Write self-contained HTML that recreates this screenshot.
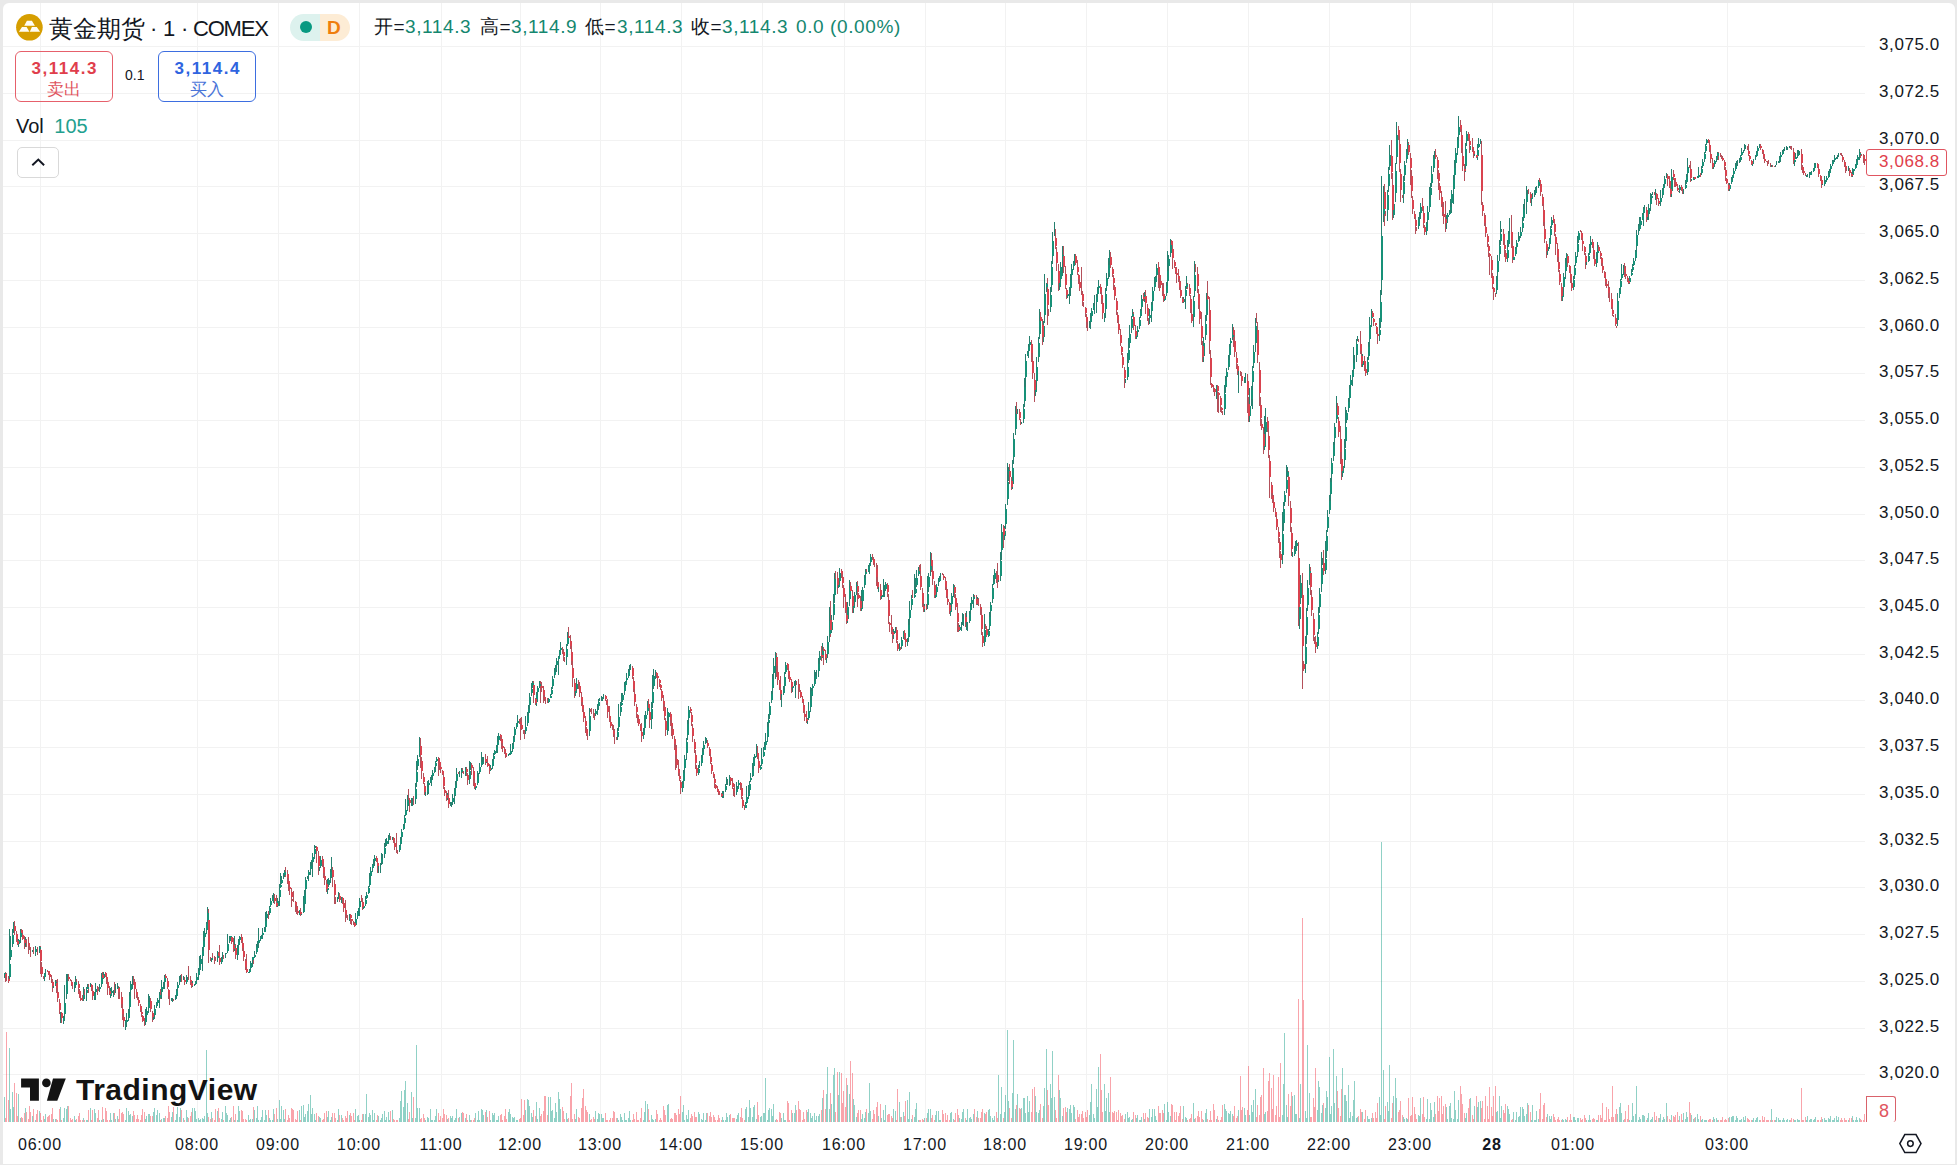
<!DOCTYPE html>
<html><head><meta charset="utf-8">
<style>
html,body{margin:0;padding:0;}
body{width:1957px;height:1165px;background:#e9e9e9;position:relative;overflow:hidden;font-family:"Liberation Sans",sans-serif;color:#131722;}
#box{position:absolute;left:3px;top:3px;width:1952px;height:1161px;background:#fff;border-radius:6px 6px 0 0;overflow:hidden;}
svg{position:absolute;left:0;top:0;}
.a{position:absolute;white-space:nowrap;line-height:1;}
.pl{position:absolute;left:1879px;font-size:17px;letter-spacing:0.6px;line-height:20px;height:20px;white-space:nowrap;color:#131722;}
.tl{position:absolute;top:1135px;letter-spacing:0.8px;width:80px;text-align:center;font-size:16px;line-height:20px;white-space:nowrap;color:#131722;}
.tl.b{font-weight:bold;}
.g{color:#15876f;}
.oh{top:16.5px;font-size:19px;letter-spacing:0.6px;}
</style></head><body>
<div id="box"></div>
<svg width="1957" height="1165" viewBox="0 0 1957 1165" shape-rendering="crispEdges" fill="none" stroke-width="1">
<path d="M40.5 3V1122M197.5 3V1122M278.5 3V1122M359.5 3V1122M441.5 3V1122M520.5 3V1122M600.5 3V1122M681.5 3V1122M762.5 3V1122M844.5 3V1122M925.5 3V1122M1005.5 3V1122M1086.5 3V1122M1167.5 3V1122M1248.5 3V1122M1329.5 3V1122M1410.5 3V1122M1492.5 3V1122M1573.5 3V1122M1727.5 3V1122M3 46.5H1865M3 93.5H1865M3 140.5H1865M3 186.5H1865M3 233.5H1865M3 280.5H1865M3 327.5H1865M3 373.5H1865M3 420.5H1865M3 467.5H1865M3 514.5H1865M3 560.5H1865M3 607.5H1865M3 654.5H1865M3 700.5H1865M3 747.5H1865M3 794.5H1865M3 841.5H1865M3 887.5H1865M3 934.5H1865M3 981.5H1865M3 1028.5H1865M3 1074.5H1865" stroke="#f2f2f2"/>
<path d="M4.5 1097V1121.5M9.5 1048V1121.5M10.5 1109V1121.5M12.5 1092V1121.5M13.5 1107V1121.5M18.5 1094V1121.5M20.5 1118V1121.5M25.5 1108V1121.5M32.5 1116V1121.5M35.5 1120V1121.5M39.5 1111V1121.5M44.5 1119V1121.5M45.5 1114V1121.5M53.5 1119V1121.5M55.5 1119V1121.5M60.5 1107V1121.5M63.5 1118V1121.5M64.5 1108V1121.5M66.5 1109V1121.5M67.5 1106V1121.5M74.5 1116V1121.5M75.5 1120V1121.5M83.5 1118V1121.5M86.5 1120V1121.5M87.5 1120V1121.5M90.5 1108V1121.5M94.5 1109V1121.5M95.5 1113V1121.5M99.5 1120V1121.5M101.5 1120V1121.5M103.5 1119V1121.5M110.5 1113V1121.5M111.5 1120V1121.5M113.5 1113V1121.5M115.5 1119V1121.5M117.5 1116V1121.5M125.5 1120V1121.5M126.5 1108V1121.5M128.5 1111V1121.5M129.5 1115V1121.5M130.5 1114V1121.5M132.5 1116V1121.5M145.5 1119V1121.5M146.5 1116V1121.5M148.5 1114V1121.5M149.5 1114V1121.5M153.5 1112V1121.5M154.5 1108V1121.5M156.5 1115V1121.5M157.5 1110V1121.5M159.5 1113V1121.5M161.5 1119V1121.5M163.5 1118V1121.5M164.5 1118V1121.5M171.5 1117V1121.5M172.5 1112V1121.5M175.5 1120V1121.5M176.5 1114V1121.5M177.5 1107V1121.5M179.5 1117V1121.5M180.5 1108V1121.5M183.5 1118V1121.5M186.5 1110V1121.5M187.5 1117V1121.5M192.5 1108V1121.5M194.5 1108V1121.5M195.5 1111V1121.5M196.5 1119V1121.5M198.5 1118V1121.5M199.5 1120V1121.5M200.5 1119V1121.5M202.5 1118V1121.5M203.5 1119V1121.5M204.5 1116V1121.5M206.5 1050V1121.5M207.5 1113V1121.5M211.5 1112V1121.5M217.5 1111V1121.5M221.5 1119V1121.5M222.5 1112V1121.5M225.5 1106V1121.5M226.5 1113V1121.5M227.5 1115V1121.5M229.5 1120V1121.5M230.5 1118V1121.5M234.5 1120V1121.5M237.5 1120V1121.5M238.5 1106V1121.5M239.5 1111V1121.5M248.5 1115V1121.5M249.5 1120V1121.5M250.5 1119V1121.5M252.5 1119V1121.5M254.5 1110V1121.5M256.5 1118V1121.5M257.5 1106V1121.5M258.5 1120V1121.5M260.5 1120V1121.5M261.5 1117V1121.5M262.5 1110V1121.5M264.5 1120V1121.5M265.5 1110V1121.5M266.5 1115V1121.5M269.5 1118V1121.5M270.5 1120V1121.5M272.5 1120V1121.5M273.5 1109V1121.5M277.5 1119V1121.5M279.5 1100V1121.5M280.5 1119V1121.5M281.5 1106V1121.5M283.5 1110V1121.5M284.5 1119V1121.5M299.5 1110V1121.5M301.5 1106V1121.5M303.5 1105V1121.5M304.5 1117V1121.5M305.5 1114V1121.5M307.5 1111V1121.5M308.5 1104V1121.5M310.5 1095V1121.5M311.5 1114V1121.5M312.5 1108V1121.5M314.5 1114V1121.5M315.5 1120V1121.5M319.5 1117V1121.5M320.5 1118V1121.5M327.5 1117V1121.5M328.5 1111V1121.5M330.5 1120V1121.5M331.5 1117V1121.5M337.5 1120V1121.5M338.5 1109V1121.5M341.5 1115V1121.5M349.5 1115V1121.5M355.5 1109V1121.5M357.5 1116V1121.5M358.5 1115V1121.5M359.5 1120V1121.5M363.5 1114V1121.5M365.5 1114V1121.5M366.5 1094V1121.5M368.5 1117V1121.5M369.5 1113V1121.5M370.5 1115V1121.5M372.5 1110V1121.5M373.5 1120V1121.5M374.5 1113V1121.5M378.5 1116V1121.5M380.5 1120V1121.5M381.5 1118V1121.5M382.5 1114V1121.5M384.5 1111V1121.5M385.5 1120V1121.5M386.5 1117V1121.5M388.5 1112V1121.5M389.5 1120V1121.5M392.5 1110V1121.5M399.5 1118V1121.5M400.5 1101V1121.5M401.5 1091V1121.5M403.5 1107V1121.5M404.5 1090V1121.5M405.5 1081V1121.5M407.5 1103V1121.5M411.5 1092V1121.5M412.5 1118V1121.5M415.5 1118V1121.5M416.5 1045V1121.5M417.5 1108V1121.5M419.5 1108V1121.5M425.5 1120V1121.5M427.5 1117V1121.5M428.5 1118V1121.5M430.5 1109V1121.5M431.5 1120V1121.5M432.5 1120V1121.5M434.5 1120V1121.5M435.5 1116V1121.5M436.5 1109V1121.5M447.5 1119V1121.5M450.5 1116V1121.5M451.5 1118V1121.5M452.5 1116V1121.5M454.5 1120V1121.5M455.5 1118V1121.5M456.5 1109V1121.5M459.5 1117V1121.5M461.5 1113V1121.5M465.5 1118V1121.5M469.5 1115V1121.5M470.5 1120V1121.5M475.5 1113V1121.5M477.5 1120V1121.5M478.5 1111V1121.5M479.5 1120V1121.5M481.5 1109V1121.5M482.5 1110V1121.5M483.5 1115V1121.5M486.5 1110V1121.5M490.5 1120V1121.5M492.5 1113V1121.5M493.5 1115V1121.5M494.5 1113V1121.5M496.5 1120V1121.5M497.5 1120V1121.5M498.5 1116V1121.5M508.5 1112V1121.5M509.5 1109V1121.5M510.5 1114V1121.5M512.5 1117V1121.5M513.5 1118V1121.5M514.5 1117V1121.5M516.5 1120V1121.5M517.5 1120V1121.5M525.5 1110V1121.5M527.5 1099V1121.5M528.5 1100V1121.5M529.5 1106V1121.5M531.5 1113V1121.5M532.5 1117V1121.5M536.5 1102V1121.5M537.5 1119V1121.5M539.5 1108V1121.5M548.5 1097V1121.5M550.5 1097V1121.5M551.5 1111V1121.5M552.5 1110V1121.5M554.5 1118V1121.5M555.5 1103V1121.5M556.5 1112V1121.5M558.5 1092V1121.5M559.5 1099V1121.5M560.5 1109V1121.5M566.5 1113V1121.5M567.5 1119V1121.5M575.5 1119V1121.5M576.5 1109V1121.5M589.5 1114V1121.5M595.5 1111V1121.5M597.5 1119V1121.5M598.5 1113V1121.5M599.5 1114V1121.5M601.5 1114V1121.5M602.5 1118V1121.5M603.5 1118V1121.5M617.5 1118V1121.5M618.5 1120V1121.5M620.5 1114V1121.5M621.5 1117V1121.5M622.5 1120V1121.5M624.5 1113V1121.5M625.5 1120V1121.5M626.5 1120V1121.5M628.5 1118V1121.5M629.5 1111V1121.5M630.5 1120V1121.5M643.5 1120V1121.5M644.5 1112V1121.5M645.5 1101V1121.5M647.5 1104V1121.5M651.5 1115V1121.5M652.5 1119V1121.5M653.5 1120V1121.5M655.5 1119V1121.5M667.5 1105V1121.5M668.5 1104V1121.5M682.5 1112V1121.5M683.5 1105V1121.5M684.5 1120V1121.5M686.5 1115V1121.5M687.5 1119V1121.5M688.5 1110V1121.5M698.5 1112V1121.5M699.5 1114V1121.5M701.5 1119V1121.5M702.5 1120V1121.5M703.5 1113V1121.5M705.5 1120V1121.5M706.5 1113V1121.5M722.5 1117V1121.5M723.5 1120V1121.5M725.5 1120V1121.5M726.5 1113V1121.5M727.5 1117V1121.5M729.5 1115V1121.5M736.5 1119V1121.5M737.5 1115V1121.5M738.5 1113V1121.5M745.5 1109V1121.5M746.5 1107V1121.5M748.5 1117V1121.5M749.5 1100V1121.5M750.5 1108V1121.5M752.5 1117V1121.5M753.5 1107V1121.5M754.5 1105V1121.5M756.5 1119V1121.5M760.5 1117V1121.5M761.5 1116V1121.5M763.5 1113V1121.5M764.5 1113V1121.5M765.5 1078V1121.5M767.5 1120V1121.5M768.5 1110V1121.5M769.5 1108V1121.5M771.5 1109V1121.5M772.5 1116V1121.5M773.5 1104V1121.5M775.5 1120V1121.5M781.5 1118V1121.5M783.5 1113V1121.5M784.5 1120V1121.5M785.5 1120V1121.5M792.5 1113V1121.5M794.5 1113V1121.5M795.5 1105V1121.5M807.5 1112V1121.5M808.5 1109V1121.5M810.5 1113V1121.5M811.5 1118V1121.5M812.5 1116V1121.5M814.5 1113V1121.5M815.5 1120V1121.5M816.5 1116V1121.5M818.5 1116V1121.5M819.5 1114V1121.5M822.5 1098V1121.5M826.5 1094V1121.5M827.5 1067V1121.5M829.5 1109V1121.5M831.5 1104V1121.5M833.5 1075V1121.5M834.5 1068V1121.5M838.5 1095V1121.5M839.5 1072V1121.5M847.5 1085V1121.5M849.5 1094V1121.5M853.5 1099V1121.5M854.5 1105V1121.5M856.5 1117V1121.5M861.5 1119V1121.5M862.5 1114V1121.5M864.5 1118V1121.5M865.5 1112V1121.5M868.5 1113V1121.5M869.5 1083V1121.5M870.5 1111V1121.5M878.5 1116V1121.5M881.5 1118V1121.5M883.5 1110V1121.5M884.5 1120V1121.5M885.5 1105V1121.5M893.5 1109V1121.5M895.5 1111V1121.5M899.5 1102V1121.5M901.5 1117V1121.5M903.5 1112V1121.5M907.5 1100V1121.5M908.5 1119V1121.5M909.5 1092V1121.5M911.5 1119V1121.5M914.5 1117V1121.5M915.5 1109V1121.5M916.5 1103V1121.5M918.5 1120V1121.5M924.5 1118V1121.5M927.5 1113V1121.5M928.5 1109V1121.5M930.5 1109V1121.5M935.5 1115V1121.5M936.5 1111V1121.5M938.5 1111V1121.5M939.5 1120V1121.5M940.5 1120V1121.5M950.5 1113V1121.5M951.5 1112V1121.5M953.5 1119V1121.5M959.5 1118V1121.5M961.5 1119V1121.5M962.5 1112V1121.5M963.5 1109V1121.5M966.5 1120V1121.5M967.5 1109V1121.5M969.5 1118V1121.5M970.5 1117V1121.5M971.5 1119V1121.5M973.5 1114V1121.5M977.5 1111V1121.5M984.5 1113V1121.5M988.5 1110V1121.5M989.5 1109V1121.5M990.5 1116V1121.5M992.5 1118V1121.5M993.5 1120V1121.5M994.5 1116V1121.5M998.5 1075V1121.5M1000.5 1114V1121.5M1001.5 1087V1121.5M1004.5 1112V1121.5M1005.5 1095V1121.5M1007.5 1030V1121.5M1008.5 1101V1121.5M1012.5 1093V1121.5M1013.5 1040V1121.5M1015.5 1109V1121.5M1017.5 1094V1121.5M1021.5 1108V1121.5M1023.5 1098V1121.5M1024.5 1098V1121.5M1025.5 1113V1121.5M1027.5 1096V1121.5M1028.5 1112V1121.5M1029.5 1101V1121.5M1035.5 1096V1121.5M1036.5 1112V1121.5M1038.5 1113V1121.5M1039.5 1110V1121.5M1043.5 1106V1121.5M1044.5 1088V1121.5M1046.5 1049V1121.5M1050.5 1084V1121.5M1051.5 1098V1121.5M1052.5 1051V1121.5M1054.5 1097V1121.5M1059.5 1090V1121.5M1060.5 1098V1121.5M1062.5 1116V1121.5M1067.5 1108V1121.5M1069.5 1109V1121.5M1070.5 1105V1121.5M1071.5 1113V1121.5M1073.5 1105V1121.5M1074.5 1107V1121.5M1089.5 1115V1121.5M1090.5 1102V1121.5M1091.5 1084V1121.5M1093.5 1114V1121.5M1094.5 1118V1121.5M1096.5 1089V1121.5M1097.5 1107V1121.5M1098.5 1067V1121.5M1104.5 1084V1121.5M1105.5 1111V1121.5M1106.5 1098V1121.5M1108.5 1093V1121.5M1109.5 1112V1121.5M1125.5 1114V1121.5M1127.5 1112V1121.5M1128.5 1118V1121.5M1129.5 1117V1121.5M1131.5 1120V1121.5M1132.5 1119V1121.5M1136.5 1118V1121.5M1137.5 1115V1121.5M1139.5 1120V1121.5M1140.5 1120V1121.5M1141.5 1117V1121.5M1144.5 1119V1121.5M1149.5 1109V1121.5M1151.5 1117V1121.5M1152.5 1109V1121.5M1154.5 1109V1121.5M1155.5 1116V1121.5M1156.5 1120V1121.5M1164.5 1104V1121.5M1166.5 1120V1121.5M1167.5 1102V1121.5M1168.5 1112V1121.5M1170.5 1116V1121.5M1183.5 1106V1121.5M1185.5 1117V1121.5M1186.5 1118V1121.5M1193.5 1103V1121.5M1194.5 1119V1121.5M1203.5 1120V1121.5M1205.5 1113V1121.5M1206.5 1109V1121.5M1216.5 1119V1121.5M1224.5 1104V1121.5M1225.5 1109V1121.5M1226.5 1111V1121.5M1228.5 1113V1121.5M1229.5 1114V1121.5M1230.5 1111V1121.5M1232.5 1114V1121.5M1238.5 1110V1121.5M1244.5 1108V1121.5M1245.5 1115V1121.5M1249.5 1115V1121.5M1251.5 1105V1121.5M1252.5 1112V1121.5M1253.5 1100V1121.5M1255.5 1089V1121.5M1264.5 1114V1121.5M1265.5 1112V1121.5M1282.5 1115V1121.5M1283.5 1084V1121.5M1284.5 1033V1121.5M1286.5 1105V1121.5M1287.5 1117V1121.5M1292.5 1096V1121.5M1294.5 1095V1121.5M1295.5 1114V1121.5M1296.5 1114V1121.5M1299.5 1118V1121.5M1300.5 1084V1121.5M1305.5 1111V1121.5M1306.5 1118V1121.5M1307.5 1045V1121.5M1309.5 1093V1121.5M1317.5 1110V1121.5M1318.5 1081V1121.5M1319.5 1087V1121.5M1321.5 1113V1121.5M1322.5 1105V1121.5M1325.5 1108V1121.5M1326.5 1091V1121.5M1327.5 1097V1121.5M1329.5 1057V1121.5M1330.5 1114V1121.5M1331.5 1106V1121.5M1333.5 1049V1121.5M1334.5 1103V1121.5M1336.5 1076V1121.5M1342.5 1068V1121.5M1344.5 1095V1121.5M1345.5 1095V1121.5M1346.5 1101V1121.5M1348.5 1085V1121.5M1349.5 1118V1121.5M1350.5 1112V1121.5M1352.5 1116V1121.5M1353.5 1100V1121.5M1354.5 1081V1121.5M1356.5 1118V1121.5M1357.5 1117V1121.5M1362.5 1112V1121.5M1367.5 1116V1121.5M1368.5 1119V1121.5M1369.5 1119V1121.5M1371.5 1118V1121.5M1379.5 1097V1121.5M1380.5 1115V1121.5M1381.5 842V1121.5M1383.5 1070V1121.5M1387.5 1102V1121.5M1388.5 1111V1121.5M1389.5 1065V1121.5M1393.5 1096V1121.5M1395.5 1078V1121.5M1396.5 1098V1121.5M1403.5 1117V1121.5M1404.5 1119V1121.5M1406.5 1118V1121.5M1407.5 1119V1121.5M1418.5 1115V1121.5M1419.5 1116V1121.5M1420.5 1098V1121.5M1426.5 1119V1121.5M1427.5 1099V1121.5M1429.5 1119V1121.5M1430.5 1103V1121.5M1431.5 1110V1121.5M1433.5 1117V1121.5M1434.5 1102V1121.5M1446.5 1107V1121.5M1447.5 1119V1121.5M1449.5 1106V1121.5M1450.5 1103V1121.5M1451.5 1118V1121.5M1453.5 1119V1121.5M1454.5 1091V1121.5M1455.5 1110V1121.5M1457.5 1119V1121.5M1458.5 1100V1121.5M1465.5 1118V1121.5M1466.5 1113V1121.5M1470.5 1098V1121.5M1474.5 1106V1121.5M1477.5 1107V1121.5M1478.5 1102V1121.5M1480.5 1101V1121.5M1496.5 1112V1121.5M1497.5 1111V1121.5M1499.5 1096V1121.5M1500.5 1118V1121.5M1501.5 1106V1121.5M1507.5 1106V1121.5M1508.5 1109V1121.5M1509.5 1114V1121.5M1513.5 1112V1121.5M1515.5 1120V1121.5M1516.5 1112V1121.5M1518.5 1117V1121.5M1519.5 1116V1121.5M1520.5 1107V1121.5M1522.5 1107V1121.5M1523.5 1109V1121.5M1524.5 1116V1121.5M1526.5 1114V1121.5M1527.5 1103V1121.5M1531.5 1120V1121.5M1532.5 1105V1121.5M1534.5 1120V1121.5M1535.5 1120V1121.5M1536.5 1111V1121.5M1538.5 1119V1121.5M1547.5 1114V1121.5M1549.5 1116V1121.5M1550.5 1119V1121.5M1551.5 1116V1121.5M1562.5 1119V1121.5M1563.5 1120V1121.5M1565.5 1119V1121.5M1566.5 1120V1121.5M1573.5 1117V1121.5M1574.5 1117V1121.5M1575.5 1120V1121.5M1577.5 1118V1121.5M1578.5 1118V1121.5M1586.5 1120V1121.5M1588.5 1120V1121.5M1589.5 1115V1121.5M1590.5 1120V1121.5M1596.5 1120V1121.5M1597.5 1120V1121.5M1617.5 1114V1121.5M1619.5 1107V1121.5M1620.5 1103V1121.5M1621.5 1113V1121.5M1623.5 1120V1121.5M1629.5 1120V1121.5M1631.5 1120V1121.5M1632.5 1103V1121.5M1633.5 1116V1121.5M1635.5 1114V1121.5M1636.5 1086V1121.5M1638.5 1120V1121.5M1639.5 1117V1121.5M1640.5 1119V1121.5M1642.5 1115V1121.5M1643.5 1115V1121.5M1644.5 1116V1121.5M1647.5 1118V1121.5M1648.5 1113V1121.5M1650.5 1120V1121.5M1651.5 1119V1121.5M1652.5 1117V1121.5M1655.5 1120V1121.5M1659.5 1118V1121.5M1660.5 1114V1121.5M1662.5 1120V1121.5M1663.5 1117V1121.5M1664.5 1119V1121.5M1666.5 1103V1121.5M1671.5 1115V1121.5M1679.5 1116V1121.5M1683.5 1113V1121.5M1685.5 1119V1121.5M1686.5 1112V1121.5M1687.5 1117V1121.5M1691.5 1115V1121.5M1693.5 1119V1121.5M1695.5 1117V1121.5M1697.5 1114V1121.5M1698.5 1119V1121.5M1701.5 1120V1121.5M1702.5 1119V1121.5M1704.5 1120V1121.5M1705.5 1120V1121.5M1706.5 1120V1121.5M1713.5 1117V1121.5M1714.5 1119V1121.5M1716.5 1118V1121.5M1717.5 1120V1121.5M1729.5 1117V1121.5M1731.5 1117V1121.5M1732.5 1116V1121.5M1733.5 1116V1121.5M1735.5 1120V1121.5M1736.5 1116V1121.5M1737.5 1118V1121.5M1739.5 1120V1121.5M1740.5 1120V1121.5M1741.5 1119V1121.5M1743.5 1117V1121.5M1744.5 1120V1121.5M1745.5 1116V1121.5M1752.5 1120V1121.5M1753.5 1118V1121.5M1755.5 1120V1121.5M1756.5 1118V1121.5M1757.5 1117V1121.5M1759.5 1120V1121.5M1771.5 1109V1121.5M1775.5 1120V1121.5M1776.5 1117V1121.5M1778.5 1118V1121.5M1779.5 1120V1121.5M1780.5 1120V1121.5M1782.5 1120V1121.5M1783.5 1118V1121.5M1784.5 1120V1121.5M1786.5 1120V1121.5M1787.5 1119V1121.5M1789.5 1120V1121.5M1794.5 1120V1121.5M1795.5 1120V1121.5M1797.5 1119V1121.5M1798.5 1120V1121.5M1799.5 1120V1121.5M1806.5 1120V1121.5M1807.5 1116V1121.5M1809.5 1120V1121.5M1810.5 1119V1121.5M1811.5 1119V1121.5M1813.5 1120V1121.5M1814.5 1119V1121.5M1815.5 1117V1121.5M1822.5 1119V1121.5M1824.5 1118V1121.5M1825.5 1120V1121.5M1826.5 1120V1121.5M1828.5 1118V1121.5M1829.5 1119V1121.5M1830.5 1116V1121.5M1832.5 1120V1121.5M1833.5 1120V1121.5M1834.5 1118V1121.5M1836.5 1116V1121.5M1837.5 1120V1121.5M1838.5 1117V1121.5M1848.5 1120V1121.5M1852.5 1116V1121.5M1853.5 1120V1121.5M1855.5 1120V1121.5M1856.5 1117V1121.5M1857.5 1120V1121.5M1859.5 1118V1121.5" stroke="rgba(8,153,129,0.45)"/>
<path d="M5.5 1118V1121.5M6.5 1032V1121.5M8.5 1100V1121.5M14.5 1083V1121.5M16.5 1093V1121.5M17.5 1116V1121.5M21.5 1117V1121.5M22.5 1118V1121.5M24.5 1113V1121.5M26.5 1112V1121.5M28.5 1119V1121.5M29.5 1106V1121.5M30.5 1112V1121.5M33.5 1109V1121.5M36.5 1114V1121.5M37.5 1110V1121.5M40.5 1113V1121.5M41.5 1120V1121.5M43.5 1116V1121.5M47.5 1117V1121.5M48.5 1116V1121.5M49.5 1115V1121.5M51.5 1114V1121.5M52.5 1108V1121.5M56.5 1119V1121.5M57.5 1120V1121.5M59.5 1109V1121.5M61.5 1120V1121.5M68.5 1106V1121.5M70.5 1118V1121.5M71.5 1120V1121.5M72.5 1119V1121.5M76.5 1119V1121.5M78.5 1116V1121.5M79.5 1113V1121.5M80.5 1120V1121.5M82.5 1120V1121.5M84.5 1120V1121.5M88.5 1110V1121.5M91.5 1120V1121.5M92.5 1110V1121.5M97.5 1118V1121.5M98.5 1110V1121.5M102.5 1107V1121.5M105.5 1108V1121.5M106.5 1111V1121.5M107.5 1120V1121.5M109.5 1120V1121.5M114.5 1113V1121.5M118.5 1119V1121.5M119.5 1109V1121.5M121.5 1113V1121.5M122.5 1112V1121.5M123.5 1114V1121.5M133.5 1111V1121.5M134.5 1115V1121.5M136.5 1119V1121.5M137.5 1115V1121.5M138.5 1119V1121.5M140.5 1120V1121.5M141.5 1115V1121.5M142.5 1109V1121.5M144.5 1112V1121.5M150.5 1116V1121.5M152.5 1116V1121.5M160.5 1120V1121.5M165.5 1116V1121.5M167.5 1118V1121.5M168.5 1106V1121.5M169.5 1112V1121.5M173.5 1107V1121.5M181.5 1110V1121.5M184.5 1120V1121.5M188.5 1118V1121.5M190.5 1116V1121.5M191.5 1112V1121.5M208.5 1117V1121.5M210.5 1119V1121.5M212.5 1118V1121.5M214.5 1120V1121.5M215.5 1109V1121.5M218.5 1108V1121.5M219.5 1118V1121.5M223.5 1120V1121.5M231.5 1117V1121.5M233.5 1106V1121.5M235.5 1114V1121.5M241.5 1110V1121.5M242.5 1111V1121.5M243.5 1119V1121.5M245.5 1119V1121.5M246.5 1120V1121.5M253.5 1107V1121.5M268.5 1110V1121.5M274.5 1114V1121.5M276.5 1108V1121.5M285.5 1109V1121.5M287.5 1120V1121.5M288.5 1115V1121.5M289.5 1118V1121.5M291.5 1108V1121.5M292.5 1109V1121.5M293.5 1110V1121.5M295.5 1119V1121.5M296.5 1120V1121.5M297.5 1111V1121.5M300.5 1120V1121.5M316.5 1113V1121.5M318.5 1116V1121.5M322.5 1120V1121.5M323.5 1119V1121.5M324.5 1113V1121.5M326.5 1111V1121.5M332.5 1113V1121.5M334.5 1113V1121.5M335.5 1118V1121.5M339.5 1115V1121.5M342.5 1118V1121.5M343.5 1120V1121.5M345.5 1116V1121.5M346.5 1118V1121.5M347.5 1111V1121.5M350.5 1113V1121.5M351.5 1116V1121.5M353.5 1113V1121.5M354.5 1120V1121.5M361.5 1120V1121.5M362.5 1114V1121.5M376.5 1120V1121.5M377.5 1115V1121.5M390.5 1111V1121.5M393.5 1119V1121.5M394.5 1120V1121.5M396.5 1120V1121.5M397.5 1120V1121.5M408.5 1119V1121.5M409.5 1112V1121.5M413.5 1097V1121.5M420.5 1119V1121.5M421.5 1118V1121.5M423.5 1114V1121.5M424.5 1118V1121.5M438.5 1113V1121.5M439.5 1120V1121.5M440.5 1116V1121.5M442.5 1118V1121.5M443.5 1109V1121.5M444.5 1114V1121.5M446.5 1115V1121.5M448.5 1118V1121.5M458.5 1118V1121.5M462.5 1112V1121.5M463.5 1113V1121.5M466.5 1114V1121.5M467.5 1120V1121.5M471.5 1120V1121.5M473.5 1120V1121.5M474.5 1118V1121.5M485.5 1112V1121.5M487.5 1117V1121.5M489.5 1111V1121.5M500.5 1115V1121.5M501.5 1114V1121.5M502.5 1120V1121.5M504.5 1116V1121.5M505.5 1109V1121.5M506.5 1119V1121.5M519.5 1119V1121.5M520.5 1118V1121.5M521.5 1099V1121.5M523.5 1115V1121.5M524.5 1100V1121.5M533.5 1110V1121.5M535.5 1116V1121.5M540.5 1116V1121.5M541.5 1114V1121.5M543.5 1111V1121.5M544.5 1096V1121.5M545.5 1096V1121.5M547.5 1115V1121.5M562.5 1107V1121.5M563.5 1111V1121.5M564.5 1119V1121.5M568.5 1118V1121.5M570.5 1096V1121.5M571.5 1083V1121.5M572.5 1119V1121.5M574.5 1114V1121.5M578.5 1117V1121.5M579.5 1118V1121.5M581.5 1108V1121.5M582.5 1098V1121.5M583.5 1089V1121.5M585.5 1106V1121.5M586.5 1110V1121.5M587.5 1112V1121.5M590.5 1120V1121.5M591.5 1119V1121.5M593.5 1117V1121.5M594.5 1119V1121.5M605.5 1113V1121.5M606.5 1120V1121.5M607.5 1120V1121.5M609.5 1120V1121.5M610.5 1118V1121.5M612.5 1118V1121.5M613.5 1111V1121.5M614.5 1112V1121.5M616.5 1118V1121.5M632.5 1120V1121.5M633.5 1114V1121.5M634.5 1119V1121.5M636.5 1112V1121.5M637.5 1120V1121.5M638.5 1120V1121.5M640.5 1118V1121.5M641.5 1108V1121.5M648.5 1109V1121.5M649.5 1120V1121.5M656.5 1110V1121.5M657.5 1114V1121.5M659.5 1120V1121.5M660.5 1118V1121.5M661.5 1120V1121.5M663.5 1106V1121.5M664.5 1110V1121.5M665.5 1115V1121.5M670.5 1119V1121.5M671.5 1118V1121.5M672.5 1119V1121.5M674.5 1113V1121.5M675.5 1113V1121.5M676.5 1115V1121.5M678.5 1109V1121.5M679.5 1114V1121.5M680.5 1096V1121.5M690.5 1118V1121.5M691.5 1114V1121.5M692.5 1116V1121.5M694.5 1112V1121.5M695.5 1117V1121.5M696.5 1117V1121.5M707.5 1113V1121.5M709.5 1116V1121.5M710.5 1112V1121.5M711.5 1117V1121.5M713.5 1115V1121.5M714.5 1117V1121.5M715.5 1120V1121.5M717.5 1120V1121.5M718.5 1115V1121.5M719.5 1118V1121.5M721.5 1120V1121.5M730.5 1114V1121.5M732.5 1118V1121.5M733.5 1118V1121.5M734.5 1118V1121.5M740.5 1117V1121.5M741.5 1108V1121.5M742.5 1118V1121.5M744.5 1120V1121.5M757.5 1102V1121.5M758.5 1115V1121.5M776.5 1119V1121.5M777.5 1120V1121.5M779.5 1112V1121.5M780.5 1113V1121.5M787.5 1101V1121.5M788.5 1103V1121.5M789.5 1120V1121.5M791.5 1110V1121.5M796.5 1110V1121.5M798.5 1101V1121.5M799.5 1109V1121.5M800.5 1110V1121.5M802.5 1120V1121.5M803.5 1112V1121.5M804.5 1119V1121.5M806.5 1110V1121.5M821.5 1110V1121.5M823.5 1090V1121.5M825.5 1109V1121.5M830.5 1093V1121.5M835.5 1112V1121.5M837.5 1072V1121.5M841.5 1073V1121.5M842.5 1103V1121.5M843.5 1091V1121.5M845.5 1107V1121.5M846.5 1078V1121.5M850.5 1061V1121.5M852.5 1073V1121.5M857.5 1113V1121.5M858.5 1110V1121.5M860.5 1110V1121.5M866.5 1109V1121.5M872.5 1119V1121.5M873.5 1110V1121.5M874.5 1114V1121.5M876.5 1107V1121.5M877.5 1102V1121.5M880.5 1104V1121.5M887.5 1115V1121.5M888.5 1114V1121.5M889.5 1114V1121.5M891.5 1116V1121.5M892.5 1118V1121.5M896.5 1120V1121.5M897.5 1089V1121.5M900.5 1117V1121.5M904.5 1116V1121.5M905.5 1101V1121.5M912.5 1115V1121.5M919.5 1120V1121.5M920.5 1120V1121.5M922.5 1119V1121.5M923.5 1120V1121.5M926.5 1118V1121.5M931.5 1118V1121.5M932.5 1115V1121.5M934.5 1120V1121.5M942.5 1110V1121.5M943.5 1114V1121.5M945.5 1113V1121.5M946.5 1120V1121.5M947.5 1115V1121.5M949.5 1120V1121.5M954.5 1120V1121.5M955.5 1113V1121.5M957.5 1109V1121.5M958.5 1115V1121.5M965.5 1118V1121.5M974.5 1109V1121.5M976.5 1117V1121.5M978.5 1118V1121.5M980.5 1118V1121.5M981.5 1112V1121.5M982.5 1109V1121.5M985.5 1114V1121.5M986.5 1112V1121.5M996.5 1112V1121.5M997.5 1118V1121.5M1003.5 1118V1121.5M1009.5 1108V1121.5M1011.5 1118V1121.5M1016.5 1105V1121.5M1019.5 1108V1121.5M1020.5 1109V1121.5M1031.5 1112V1121.5M1032.5 1089V1121.5M1034.5 1087V1121.5M1040.5 1104V1121.5M1042.5 1118V1121.5M1047.5 1090V1121.5M1048.5 1105V1121.5M1055.5 1110V1121.5M1056.5 1118V1121.5M1058.5 1075V1121.5M1063.5 1108V1121.5M1065.5 1107V1121.5M1066.5 1112V1121.5M1075.5 1119V1121.5M1077.5 1110V1121.5M1078.5 1117V1121.5M1079.5 1114V1121.5M1081.5 1114V1121.5M1082.5 1111V1121.5M1083.5 1118V1121.5M1085.5 1112V1121.5M1086.5 1117V1121.5M1087.5 1110V1121.5M1100.5 1054V1121.5M1101.5 1090V1121.5M1102.5 1112V1121.5M1110.5 1077V1121.5M1112.5 1112V1121.5M1113.5 1113V1121.5M1114.5 1111V1121.5M1116.5 1112V1121.5M1117.5 1120V1121.5M1118.5 1110V1121.5M1120.5 1113V1121.5M1121.5 1116V1121.5M1122.5 1115V1121.5M1124.5 1119V1121.5M1133.5 1112V1121.5M1135.5 1115V1121.5M1143.5 1113V1121.5M1145.5 1113V1121.5M1147.5 1117V1121.5M1148.5 1118V1121.5M1158.5 1106V1121.5M1159.5 1113V1121.5M1160.5 1113V1121.5M1162.5 1110V1121.5M1163.5 1113V1121.5M1171.5 1104V1121.5M1172.5 1105V1121.5M1174.5 1112V1121.5M1175.5 1120V1121.5M1176.5 1112V1121.5M1178.5 1116V1121.5M1179.5 1113V1121.5M1180.5 1106V1121.5M1182.5 1119V1121.5M1187.5 1120V1121.5M1189.5 1119V1121.5M1190.5 1118V1121.5M1191.5 1114V1121.5M1195.5 1118V1121.5M1197.5 1116V1121.5M1198.5 1111V1121.5M1199.5 1117V1121.5M1201.5 1111V1121.5M1202.5 1119V1121.5M1207.5 1119V1121.5M1209.5 1120V1121.5M1210.5 1111V1121.5M1211.5 1120V1121.5M1213.5 1104V1121.5M1214.5 1110V1121.5M1217.5 1116V1121.5M1218.5 1120V1121.5M1220.5 1120V1121.5M1221.5 1117V1121.5M1222.5 1105V1121.5M1233.5 1116V1121.5M1234.5 1106V1121.5M1236.5 1118V1121.5M1237.5 1116V1121.5M1240.5 1076V1121.5M1241.5 1110V1121.5M1242.5 1107V1121.5M1247.5 1110V1121.5M1248.5 1066V1121.5M1256.5 1117V1121.5M1257.5 1105V1121.5M1259.5 1115V1121.5M1260.5 1097V1121.5M1261.5 1095V1121.5M1263.5 1068V1121.5M1267.5 1111V1121.5M1268.5 1081V1121.5M1269.5 1073V1121.5M1271.5 1088V1121.5M1272.5 1109V1121.5M1273.5 1075V1121.5M1275.5 1115V1121.5M1276.5 1106V1121.5M1278.5 1077V1121.5M1279.5 1117V1121.5M1280.5 1063V1121.5M1288.5 1094V1121.5M1290.5 1106V1121.5M1291.5 1092V1121.5M1298.5 999V1121.5M1302.5 918V1121.5M1303.5 1000V1121.5M1310.5 1117V1121.5M1311.5 1117V1121.5M1313.5 1098V1121.5M1314.5 1107V1121.5M1315.5 1068V1121.5M1323.5 1103V1121.5M1337.5 1091V1121.5M1338.5 1108V1121.5M1340.5 1116V1121.5M1341.5 1089V1121.5M1358.5 1116V1121.5M1360.5 1109V1121.5M1361.5 1112V1121.5M1364.5 1119V1121.5M1365.5 1110V1121.5M1372.5 1113V1121.5M1373.5 1118V1121.5M1375.5 1112V1121.5M1376.5 1118V1121.5M1377.5 1103V1121.5M1384.5 1119V1121.5M1385.5 1106V1121.5M1391.5 1118V1121.5M1392.5 1103V1121.5M1398.5 1112V1121.5M1399.5 1110V1121.5M1400.5 1101V1121.5M1402.5 1115V1121.5M1408.5 1098V1121.5M1410.5 1116V1121.5M1411.5 1115V1121.5M1412.5 1097V1121.5M1414.5 1107V1121.5M1415.5 1114V1121.5M1416.5 1119V1121.5M1422.5 1114V1121.5M1423.5 1097V1121.5M1424.5 1117V1121.5M1435.5 1114V1121.5M1437.5 1096V1121.5M1438.5 1111V1121.5M1439.5 1098V1121.5M1441.5 1096V1121.5M1442.5 1114V1121.5M1443.5 1106V1121.5M1445.5 1104V1121.5M1460.5 1086V1121.5M1461.5 1094V1121.5M1462.5 1104V1121.5M1464.5 1113V1121.5M1468.5 1108V1121.5M1469.5 1099V1121.5M1472.5 1115V1121.5M1473.5 1119V1121.5M1476.5 1096V1121.5M1481.5 1108V1121.5M1482.5 1101V1121.5M1484.5 1119V1121.5M1485.5 1096V1121.5M1487.5 1106V1121.5M1488.5 1119V1121.5M1489.5 1087V1121.5M1491.5 1107V1121.5M1492.5 1116V1121.5M1493.5 1096V1121.5M1495.5 1086V1121.5M1503.5 1110V1121.5M1504.5 1113V1121.5M1505.5 1104V1121.5M1511.5 1120V1121.5M1512.5 1119V1121.5M1528.5 1105V1121.5M1530.5 1112V1121.5M1539.5 1109V1121.5M1540.5 1093V1121.5M1542.5 1119V1121.5M1543.5 1105V1121.5M1544.5 1103V1121.5M1546.5 1117V1121.5M1553.5 1114V1121.5M1554.5 1117V1121.5M1555.5 1120V1121.5M1557.5 1119V1121.5M1558.5 1117V1121.5M1559.5 1120V1121.5M1561.5 1120V1121.5M1567.5 1117V1121.5M1569.5 1120V1121.5M1570.5 1114V1121.5M1571.5 1120V1121.5M1580.5 1118V1121.5M1581.5 1120V1121.5M1582.5 1119V1121.5M1584.5 1115V1121.5M1585.5 1118V1121.5M1592.5 1119V1121.5M1593.5 1118V1121.5M1594.5 1119V1121.5M1598.5 1115V1121.5M1600.5 1115V1121.5M1601.5 1118V1121.5M1602.5 1103V1121.5M1604.5 1120V1121.5M1605.5 1120V1121.5M1606.5 1107V1121.5M1608.5 1109V1121.5M1609.5 1119V1121.5M1611.5 1117V1121.5M1612.5 1086V1121.5M1613.5 1117V1121.5M1615.5 1114V1121.5M1616.5 1109V1121.5M1624.5 1119V1121.5M1625.5 1111V1121.5M1627.5 1119V1121.5M1628.5 1105V1121.5M1646.5 1120V1121.5M1654.5 1112V1121.5M1656.5 1116V1121.5M1658.5 1118V1121.5M1667.5 1116V1121.5M1669.5 1119V1121.5M1670.5 1120V1121.5M1673.5 1116V1121.5M1674.5 1117V1121.5M1675.5 1115V1121.5M1677.5 1112V1121.5M1678.5 1120V1121.5M1681.5 1114V1121.5M1682.5 1120V1121.5M1689.5 1102V1121.5M1690.5 1113V1121.5M1694.5 1118V1121.5M1700.5 1116V1121.5M1708.5 1120V1121.5M1709.5 1119V1121.5M1710.5 1119V1121.5M1712.5 1120V1121.5M1718.5 1120V1121.5M1720.5 1120V1121.5M1721.5 1120V1121.5M1722.5 1117V1121.5M1724.5 1120V1121.5M1725.5 1119V1121.5M1726.5 1120V1121.5M1728.5 1118V1121.5M1747.5 1118V1121.5M1748.5 1119V1121.5M1749.5 1120V1121.5M1751.5 1120V1121.5M1760.5 1120V1121.5M1762.5 1116V1121.5M1763.5 1120V1121.5M1764.5 1117V1121.5M1766.5 1120V1121.5M1767.5 1120V1121.5M1768.5 1120V1121.5M1770.5 1120V1121.5M1772.5 1120V1121.5M1774.5 1120V1121.5M1790.5 1120V1121.5M1791.5 1118V1121.5M1793.5 1119V1121.5M1801.5 1088V1121.5M1802.5 1120V1121.5M1803.5 1120V1121.5M1805.5 1117V1121.5M1817.5 1120V1121.5M1818.5 1120V1121.5M1820.5 1120V1121.5M1821.5 1117V1121.5M1840.5 1120V1121.5M1841.5 1118V1121.5M1842.5 1120V1121.5M1844.5 1118V1121.5M1845.5 1120V1121.5M1846.5 1120V1121.5M1849.5 1118V1121.5M1851.5 1118V1121.5M1860.5 1119V1121.5M1861.5 1120V1121.5M1863.5 1120V1121.5M1864.5 1114V1121.5" stroke="rgba(242,54,69,0.45)"/>

<path d="M4.5 973V978M9.5 929V981M10.5 936V960M12.5 929V947M13.5 922V933M18.5 939V947M20.5 929V943M25.5 937V947M32.5 950V952M35.5 946V956M39.5 946V953M44.5 973V981M45.5 969V975M53.5 985V988M55.5 980V986M60.5 1012V1023M63.5 1016V1024M64.5 985V1021M66.5 974V999M67.5 974V991M74.5 982V992M75.5 976V988M83.5 987V1001M86.5 987V1001M87.5 984V989M90.5 983V987M94.5 992V1000M95.5 983V1000M99.5 984V992M101.5 973V987M103.5 972V979M110.5 988V998M111.5 987V996M113.5 990V997M115.5 984V993M117.5 983V989M125.5 1020V1030M126.5 1013V1027M128.5 1009V1021M129.5 992V1013M130.5 981V997M132.5 976V989M145.5 1009V1025M146.5 1007V1017M148.5 994V1013M149.5 996V1003M153.5 1015V1020M154.5 1005V1019M156.5 1002V1008M157.5 998V1006M159.5 992V1008M161.5 980V999M163.5 982V989M164.5 975V989M171.5 998V1001M172.5 998V1002M175.5 995V1000M176.5 989V999M177.5 982V992M179.5 976V985M180.5 975V980M183.5 976V980M186.5 975V984M187.5 977V980M192.5 981V987M194.5 984V986M195.5 981V985M196.5 973V983M198.5 968V980M199.5 956V971M200.5 955V970M202.5 947V971M203.5 931V952M204.5 928V941M206.5 922V934M207.5 907V928M211.5 958V962M217.5 951V962M221.5 957V964M222.5 952V961M225.5 953V958M226.5 953V954M227.5 934V953M229.5 936V943M230.5 936V941M234.5 936V951M237.5 945V960M238.5 939V948M239.5 936V942M248.5 972V973M249.5 969V973M250.5 961V970M252.5 957V967M254.5 951V958M256.5 944V954M257.5 941V950M258.5 928V948M260.5 936V941M261.5 935V939M262.5 928V939M264.5 927V932M265.5 912V932M266.5 911V923M269.5 906V915M270.5 898V907M272.5 895V901M273.5 893V903M277.5 898V907M279.5 884V906M280.5 873V888M281.5 876V884M283.5 873V879M284.5 870V877M299.5 910V915M301.5 913V915M303.5 896V913M304.5 890V909M305.5 877V895M307.5 876V879M308.5 870V881M310.5 862V875M311.5 860V867M312.5 853V877M314.5 845V859M315.5 846V848M319.5 867V871M320.5 856V868M327.5 879V894M328.5 878V887M330.5 869V883M331.5 857V878M337.5 897V902M338.5 892V899M341.5 897V903M349.5 914V921M355.5 913V926M357.5 911V919M358.5 908V913M359.5 898V916M363.5 903V909M365.5 896V906M366.5 892V899M368.5 886V894M369.5 873V887M370.5 867V879M372.5 864V872M373.5 859V866M374.5 855V866M378.5 865V873M380.5 863V873M381.5 853V865M382.5 854V864M384.5 843V858M385.5 839V847M386.5 838V846M388.5 835V844M389.5 833V839M392.5 837V840M399.5 845V852M400.5 837V846M401.5 829V840M403.5 824V830M404.5 815V828M405.5 799V816M407.5 795V811M411.5 798V806M412.5 798V806M415.5 783V804M416.5 761V787M417.5 755V770M419.5 737V757M425.5 787V796M427.5 781V795M428.5 780V794M430.5 777V783M431.5 775V786M432.5 770V780M434.5 767V773M435.5 761V772M436.5 757V762M447.5 793V800M450.5 802V806M451.5 802V807M452.5 794V805M454.5 788V804M455.5 781V796M456.5 768V786M459.5 771V777M461.5 768V778M465.5 767V776M469.5 761V784M470.5 762V770M475.5 784V790M477.5 771V785M478.5 773V778M479.5 763V774M481.5 752V767M482.5 757V763M483.5 757V764M486.5 760V763M490.5 765V771M492.5 759V769M493.5 753V761M494.5 750V755M496.5 745V753M497.5 736V753M498.5 733V743M508.5 754V756M509.5 753V755M510.5 744V755M512.5 743V752M513.5 736V749M514.5 727V739M516.5 723V729M517.5 715V724M525.5 716V734M527.5 712V726M528.5 705V718M529.5 693V710M531.5 683V696M532.5 681V688M536.5 692V706M537.5 686V698M539.5 681V688M548.5 698V703M550.5 694V698M551.5 687V695M552.5 676V689M554.5 668V678M555.5 665V674M556.5 658V672M558.5 656V675M559.5 650V659M560.5 642V653M566.5 644V665M567.5 632V646M575.5 690V696M576.5 678V693M589.5 708V736M595.5 709V716M597.5 704V715M598.5 699V710M599.5 698V701M601.5 696V701M602.5 697V701M603.5 694V699M617.5 728V740M618.5 704V731M620.5 702V716M621.5 693V706M622.5 693V702M624.5 682V695M625.5 681V691M626.5 673V682M628.5 669V678M629.5 665V672M630.5 664V670M643.5 728V739M644.5 715V731M645.5 711V724M647.5 701V715M651.5 702V729M652.5 675V708M653.5 669V689M655.5 670V679M667.5 708V735M668.5 712V731M682.5 781V792M683.5 770V786M684.5 755V775M686.5 738V760M687.5 720V740M688.5 706V734M698.5 765V775M699.5 761V768M701.5 755V766M702.5 748V758M703.5 741V752M705.5 737V744M706.5 738V743M722.5 791V798M723.5 791V798M725.5 784V792M726.5 777V785M727.5 779V785M729.5 775V786M736.5 782V795M737.5 786V792M738.5 780V788M745.5 802V808M746.5 786V804M748.5 785V799M749.5 781V796M750.5 773V782M752.5 763V777M753.5 757V776M754.5 754V763M756.5 744V757M760.5 765V770M761.5 748V766M763.5 747V757M764.5 742V750M765.5 733V748M767.5 722V742M768.5 714V727M769.5 702V719M771.5 691V703M772.5 674V697M773.5 658V683M775.5 652V679M781.5 693V707M783.5 686V695M784.5 672V690M785.5 662V674M792.5 683V692M794.5 681V686M795.5 680V698M807.5 718V724M808.5 702V720M810.5 687V712M811.5 688V701M812.5 684V691M814.5 670V686M815.5 672V681M816.5 670V679M818.5 658V677M819.5 651V665M822.5 643V658M826.5 656V663M827.5 636V658M829.5 607V642M831.5 615V633M833.5 594V620M834.5 573V603M838.5 582V588M839.5 568V587M847.5 602V623M849.5 580V606M853.5 599V613M854.5 592V606M856.5 582V595M861.5 590V611M862.5 587V607M864.5 575V588M865.5 569V582M868.5 565V572M869.5 563V574M870.5 554V565M878.5 587V592M881.5 591V599M883.5 579V597M884.5 585V597M885.5 582V591M893.5 629V639M895.5 627V633M899.5 643V651M901.5 637V649M903.5 631V639M907.5 638V646M908.5 619V642M909.5 601V625M911.5 595V610M914.5 574V598M915.5 578V594M916.5 570V587M918.5 567V576M924.5 604V612M927.5 576V609M928.5 573V592M930.5 552V576M935.5 593V598M936.5 584V595M938.5 578V586M939.5 576V582M940.5 573V579M950.5 603V616M951.5 593V607M953.5 584V597M959.5 625V631M961.5 622V631M962.5 613V625M963.5 614V626M966.5 611V630M967.5 622V631M969.5 611V623M970.5 603V614M971.5 597V606M973.5 594V608M977.5 597V605M984.5 614V646M988.5 629V637M989.5 612V630M990.5 602V618M992.5 584V603M993.5 575V585M994.5 569V584M998.5 580V582M1000.5 552V581M1001.5 524V560M1004.5 526V540M1005.5 504V529M1007.5 463V505M1008.5 467V481M1012.5 460V489M1013.5 433V464M1015.5 406V435M1017.5 409V414M1021.5 422V424M1023.5 404V423M1024.5 378V407M1025.5 354V392M1027.5 351V356M1028.5 344V358M1029.5 336V350M1035.5 382V396M1036.5 357V387M1038.5 337V362M1039.5 309V339M1043.5 321V342M1044.5 274V323M1046.5 283V292M1050.5 287V312M1051.5 261V292M1052.5 232V264M1054.5 222V236M1059.5 280V290M1060.5 262V287M1062.5 246V276M1067.5 290V298M1069.5 287V304M1070.5 274V296M1071.5 264V281M1073.5 261V270M1074.5 254V264M1089.5 321V328M1090.5 313V329M1091.5 308V318M1093.5 303V310M1094.5 295V314M1096.5 294V313M1097.5 287V298M1098.5 280V290M1104.5 313V322M1105.5 288V318M1106.5 273V291M1108.5 258V279M1109.5 250V277M1125.5 379V383M1127.5 353V380M1128.5 338V363M1129.5 325V348M1131.5 316V333M1132.5 309V317M1136.5 333V339M1137.5 326V335M1139.5 317V329M1140.5 309V318M1141.5 295V313M1144.5 292V302M1149.5 309V324M1151.5 302V322M1152.5 287V306M1154.5 277V291M1155.5 276V284M1156.5 264V279M1164.5 294V301M1166.5 282V296M1167.5 251V286M1168.5 255V276M1170.5 239V257M1183.5 297V303M1185.5 286V309M1186.5 276V289M1193.5 296V327M1194.5 261V297M1203.5 337V362M1205.5 315V340M1206.5 293V321M1216.5 385V399M1224.5 385V415M1225.5 376V393M1226.5 368V381M1228.5 355V370M1229.5 344V360M1230.5 338V347M1232.5 324V340M1238.5 370V393M1244.5 377V383M1245.5 373V383M1249.5 388V422M1251.5 386V406M1252.5 366V409M1253.5 345V368M1255.5 318V352M1264.5 416V450M1265.5 408V441M1282.5 512V564M1283.5 502V531M1284.5 491V506M1286.5 465V493M1287.5 467V477M1292.5 552V557M1294.5 546V556M1295.5 541V553M1296.5 540V548M1299.5 601V629M1300.5 575V604M1305.5 636V673M1306.5 608V644M1307.5 580V611M1309.5 564V585M1317.5 632V649M1318.5 607V634M1319.5 588V613M1321.5 552V592M1322.5 558V565M1325.5 541V574M1326.5 530V558M1327.5 510V532M1329.5 495V514M1330.5 478V501M1331.5 458V483M1333.5 442V461M1334.5 423V446M1336.5 396V423M1342.5 464V477M1344.5 439V468M1345.5 407V448M1346.5 410V423M1348.5 398V412M1349.5 385V405M1350.5 375V391M1352.5 370V386M1353.5 347V373M1354.5 355V363M1356.5 339V362M1357.5 336V341M1362.5 354V367M1367.5 357V375M1368.5 342V360M1369.5 317V347M1371.5 309V327M1379.5 318V341M1380.5 290V328M1381.5 176V295M1383.5 186V222M1387.5 190V221M1388.5 167V192M1389.5 145V170M1393.5 200V218M1395.5 163V202M1396.5 122V164M1403.5 176V203M1404.5 161V181M1406.5 149V163M1407.5 139V152M1418.5 217V229M1419.5 212V220M1420.5 203V219M1426.5 222V235M1427.5 206V224M1429.5 187V212M1430.5 183V201M1431.5 166V187M1433.5 155V172M1434.5 151V159M1446.5 215V229M1447.5 213V220M1449.5 210V215M1450.5 199V212M1451.5 190V213M1453.5 175V204M1454.5 160V181M1455.5 148V168M1457.5 137V155M1458.5 116V141M1465.5 143V172M1466.5 131V146M1470.5 146V150M1474.5 152V156M1477.5 144V160M1478.5 138V148M1480.5 139V144M1496.5 276V294M1497.5 255V286M1499.5 240V261M1500.5 221V245M1501.5 229V232M1507.5 240V262M1508.5 231V247M1509.5 218V234M1513.5 255V260M1515.5 247V256M1516.5 240V250M1518.5 232V242M1519.5 236V240M1520.5 227V238M1522.5 217V232M1523.5 204V221M1524.5 199V209M1526.5 186V214M1527.5 190V198M1531.5 196V206M1532.5 193V198M1534.5 190V197M1535.5 187V195M1536.5 186V192M1538.5 180V188M1547.5 244V255M1549.5 238V249M1550.5 226V242M1551.5 217V228M1562.5 290V301M1563.5 273V293M1565.5 258V279M1566.5 253V264M1573.5 276V290M1574.5 265V279M1575.5 252V266M1577.5 236V257M1578.5 231V243M1586.5 260V265M1588.5 253V262M1589.5 244V255M1590.5 236V248M1596.5 252V267M1597.5 242V260M1617.5 293V326M1619.5 288V298M1620.5 279V291M1621.5 264V280M1623.5 265V275M1629.5 276V284M1631.5 269V276M1632.5 264V272M1633.5 258V266M1635.5 250V261M1636.5 230V256M1638.5 224V235M1639.5 217V231M1640.5 217V228M1642.5 213V220M1643.5 207V226M1644.5 205V209M1647.5 215V220M1648.5 204V220M1650.5 193V211M1651.5 194V200M1652.5 192V195M1655.5 189V200M1659.5 203V204M1660.5 190V206M1662.5 188V198M1663.5 184V192M1664.5 176V187M1666.5 173V178M1671.5 169V197M1679.5 185V193M1683.5 189V194M1685.5 180V189M1686.5 174V184M1687.5 158V177M1691.5 179V181M1693.5 177V180M1695.5 178V179M1697.5 176V178M1698.5 167V178M1701.5 166V175M1702.5 159V168M1704.5 152V162M1705.5 144V153M1706.5 139V145M1713.5 164V169M1714.5 160V166M1716.5 156V162M1717.5 152V160M1729.5 183V191M1731.5 177V184M1732.5 175V181M1733.5 168V177M1735.5 163V171M1736.5 161V166M1737.5 160V166M1739.5 158V163M1740.5 155V162M1741.5 148V156M1743.5 150V153M1744.5 144V151M1745.5 145V149M1752.5 161V166M1753.5 159V163M1755.5 155V160M1756.5 151V157M1757.5 146V153M1759.5 144V148M1771.5 165V167M1775.5 165V167M1776.5 161V165M1778.5 161V163M1779.5 156V163M1780.5 152V162M1782.5 150V155M1783.5 149V153M1784.5 147V151M1786.5 146V150M1787.5 147V150M1789.5 146V148M1794.5 158V166M1795.5 153V159M1797.5 150V158M1798.5 150V155M1799.5 151V155M1806.5 175V177M1807.5 174V177M1809.5 172V178M1810.5 172V175M1811.5 171V173M1813.5 168V172M1814.5 163V171M1815.5 163V166M1822.5 184V185M1824.5 176V186M1825.5 180V183M1826.5 176V182M1828.5 171V178M1829.5 169V175M1830.5 164V171M1832.5 160V166M1833.5 160V163M1834.5 155V162M1836.5 157V159M1837.5 155V159M1838.5 153V157M1848.5 166V171M1852.5 168V177M1853.5 169V173M1855.5 164V169M1856.5 159V168M1857.5 155V162M1859.5 149V160" stroke="#26806f"/>
<path d="M5.5 972V982M6.5 973V981M8.5 976V983M14.5 921V935M16.5 931V942M17.5 939V945M21.5 929V936M22.5 932V940M24.5 936V949M26.5 939V947M28.5 937V954M29.5 943V950M30.5 947V957M33.5 947V954M36.5 949V950M37.5 947V955M40.5 946V974M41.5 962V977M43.5 976V979M47.5 970V972M48.5 971V975M49.5 973V980M51.5 975V983M52.5 979V992M56.5 980V993M57.5 979V1002M59.5 999V1014M61.5 1012V1023M68.5 974V981M70.5 979V981M71.5 980V986M72.5 985V989M76.5 979V983M78.5 981V994M79.5 989V998M80.5 995V1001M82.5 995V1001M84.5 989V995M88.5 984V993M91.5 984V991M92.5 987V1000M97.5 986V995M98.5 987V991M102.5 972V979M105.5 972V977M106.5 974V984M107.5 979V995M109.5 986V995M114.5 982V995M118.5 986V999M119.5 987V999M121.5 992V1008M122.5 1004V1020M123.5 1013V1027M133.5 976V985M134.5 979V999M136.5 989V998M137.5 995V1000M138.5 997V1006M140.5 1004V1012M141.5 1010V1017M142.5 1015V1022M144.5 1018V1026M150.5 998V1012M152.5 1011V1022M160.5 989V999M165.5 974V982M167.5 978V989M168.5 989V999M169.5 995V1005M173.5 999V1001M181.5 974V982M184.5 977V985M188.5 966V980M190.5 976V985M191.5 982V988M208.5 909V963M210.5 957V961M212.5 953V960M214.5 956V964M215.5 957V961M218.5 952V957M219.5 945V965M223.5 955V959M231.5 936V944M233.5 938V952M235.5 944V959M241.5 934V943M242.5 939V951M243.5 948V961M245.5 959V970M246.5 954V973M253.5 957V964M268.5 911V919M274.5 894V904M276.5 895V907M285.5 867V877M287.5 870V884M288.5 878V891M289.5 884V895M291.5 888V907M292.5 899V901M293.5 891V902M295.5 901V912M296.5 902V914M297.5 906V915M300.5 908V916M316.5 846V863M318.5 851V875M322.5 856V867M323.5 860V878M324.5 870V885M326.5 880V892M332.5 867V887M334.5 880V904M335.5 897V904M339.5 893V902M342.5 897V904M343.5 899V912M345.5 900V922M346.5 914V918M347.5 915V920M350.5 914V924M351.5 919V925M353.5 921V925M354.5 922V927M361.5 895V902M362.5 898V910M376.5 856V862M377.5 861V873M390.5 836V840M393.5 837V843M394.5 840V850M396.5 833V853M397.5 850V854M408.5 789V800M409.5 798V812M413.5 796V805M420.5 738V768M421.5 757V779M423.5 773V784M424.5 783V795M438.5 757V776M439.5 758V770M440.5 763V773M442.5 770V775M443.5 772V789M444.5 787V796M446.5 791V801M448.5 790V808M458.5 772V774M462.5 768V773M463.5 771V774M466.5 767V776M467.5 773V785M471.5 763V775M473.5 767V786M474.5 779V789M485.5 754V765M487.5 756V767M489.5 764V774M500.5 734V741M501.5 737V749M502.5 743V752M504.5 747V754M505.5 749V758M506.5 755V757M519.5 719V724M520.5 718V740M521.5 717V730M523.5 730V734M524.5 730V739M533.5 681V703M535.5 698V705M540.5 681V703M541.5 682V692M543.5 686V703M544.5 694V701M545.5 699V704M547.5 698V703M562.5 647V654M563.5 649V661M564.5 657V662M568.5 627V642M570.5 635V649M571.5 643V665M572.5 661V687M574.5 679V698M578.5 680V689M579.5 682V697M581.5 692V706M582.5 701V712M583.5 709V722M585.5 716V733M586.5 727V736M587.5 734V740M590.5 709V712M591.5 708V714M593.5 709V718M594.5 713V720M605.5 695V701M606.5 700V705M607.5 699V718M609.5 706V722M610.5 716V728M612.5 724V730M613.5 725V737M614.5 729V744M616.5 737V740M632.5 666V679M633.5 677V692M634.5 689V706M636.5 704V718M637.5 714V723M638.5 715V726M640.5 724V731M641.5 723V742M648.5 699V711M649.5 707V728M656.5 672V678M657.5 675V689M659.5 679V687M660.5 684V690M661.5 689V701M663.5 695V711M664.5 703V720M665.5 718V736M670.5 712V726M671.5 714V736M672.5 725V739M674.5 736V750M675.5 743V770M676.5 745V768M678.5 760V776M679.5 769V781M680.5 780V794M690.5 707V713M691.5 712V726M692.5 724V742M694.5 739V753M695.5 750V769M696.5 765V776M707.5 740V748M709.5 747V756M710.5 754V764M711.5 763V774M713.5 772V778M714.5 775V788M715.5 784V789M717.5 786V792M718.5 791V795M719.5 793V795M721.5 793V797M730.5 777V785M732.5 778V789M733.5 788V796M734.5 784V797M740.5 782V790M741.5 784V799M742.5 797V808M744.5 805V810M757.5 746V759M758.5 757V773M776.5 653V677M777.5 664V685M779.5 680V690M780.5 676V700M787.5 663V670M788.5 668V679M789.5 675V682M791.5 679V693M796.5 681V685M798.5 679V699M799.5 684V692M800.5 690V698M802.5 696V703M803.5 702V713M804.5 709V721M806.5 711V723M821.5 646V661M823.5 647V665M825.5 650V660M830.5 601V637M835.5 571V584M837.5 572V594M841.5 569V578M842.5 571V588M843.5 585V608M845.5 594V613M846.5 608V624M850.5 582V595M852.5 590V613M857.5 581V607M858.5 593V599M860.5 596V611M866.5 569V572M872.5 554V560M873.5 557V565M874.5 560V567M876.5 563V586M877.5 565V589M880.5 584V600M887.5 583V597M888.5 594V624M889.5 622V632M891.5 615V634M892.5 629V643M896.5 627V643M897.5 641V651M900.5 647V650M904.5 630V640M905.5 635V647M912.5 590V598M919.5 565V573M920.5 564V590M922.5 588V607M923.5 602V612M926.5 604V610M931.5 553V572M932.5 562V585M934.5 581V598M942.5 573V575M943.5 574V580M945.5 577V590M946.5 585V598M947.5 589V605M949.5 602V614M954.5 585V598M955.5 594V610M957.5 603V632M958.5 623V632M965.5 613V627M974.5 595V597M976.5 595V605M978.5 598V606M980.5 604V615M981.5 607V635M982.5 632V647M985.5 624V629M986.5 626V637M996.5 571V583M997.5 563V588M1003.5 525V548M1009.5 464V484M1011.5 477V490M1016.5 402V414M1019.5 409V420M1020.5 419V425M1031.5 340V362M1032.5 353V379M1034.5 373V402M1040.5 312V322M1042.5 319V345M1047.5 278V325M1048.5 309V316M1055.5 229V249M1056.5 247V271M1058.5 264V291M1063.5 246V273M1065.5 266V289M1066.5 288V299M1075.5 254V265M1077.5 260V275M1078.5 274V284M1079.5 279V291M1081.5 267V295M1082.5 291V306M1083.5 302V307M1085.5 307V317M1086.5 314V328M1087.5 321V331M1100.5 284V294M1101.5 292V304M1102.5 299V319M1110.5 252V268M1112.5 267V277M1113.5 275V290M1114.5 285V300M1116.5 298V315M1117.5 312V323M1118.5 320V334M1120.5 329V346M1121.5 346V355M1122.5 353V368M1124.5 367V388M1133.5 312V330M1135.5 325V339M1143.5 293V301M1145.5 290V314M1147.5 304V321M1148.5 318V325M1158.5 262V288M1159.5 270V291M1160.5 277V288M1162.5 283V296M1163.5 283V302M1171.5 240V248M1172.5 244V269M1174.5 260V268M1175.5 267V274M1176.5 267V283M1178.5 269V282M1179.5 279V290M1180.5 281V298M1182.5 297V303M1187.5 283V289M1189.5 284V296M1190.5 295V313M1191.5 307V323M1195.5 264V272M1197.5 267V293M1198.5 289V309M1199.5 299V324M1201.5 312V345M1202.5 341V362M1207.5 281V301M1209.5 297V354M1210.5 350V385M1211.5 383V388M1213.5 385V392M1214.5 388V396M1217.5 385V412M1218.5 392V413M1220.5 396V412M1221.5 407V413M1222.5 411V415M1233.5 327V347M1234.5 330V357M1236.5 352V369M1237.5 364V375M1240.5 371V376M1241.5 372V386M1242.5 380V381M1247.5 374V413M1248.5 397V422M1256.5 313V323M1257.5 322V363M1259.5 362V406M1260.5 397V426M1261.5 419V430M1263.5 427V454M1267.5 417V432M1268.5 428V458M1269.5 455V498M1271.5 482V499M1272.5 493V503M1273.5 495V512M1275.5 508V517M1276.5 513V530M1278.5 527V543M1279.5 538V558M1280.5 551V568M1288.5 471V506M1290.5 501V532M1291.5 527V556M1298.5 542V626M1302.5 573V689M1303.5 661V671M1310.5 567V595M1311.5 590V616M1313.5 613V641M1314.5 637V644M1315.5 636V653M1323.5 550V575M1337.5 403V419M1338.5 417V437M1340.5 426V464M1341.5 452V480M1358.5 339V342M1360.5 331V354M1361.5 351V367M1364.5 356V371M1365.5 366V376M1372.5 311V318M1373.5 318V326M1375.5 323V326M1376.5 326V334M1377.5 331V344M1384.5 184V226M1385.5 211V216M1391.5 140V179M1392.5 173V220M1398.5 126V140M1399.5 136V172M1400.5 169V202M1402.5 195V198M1408.5 142V155M1410.5 153V185M1411.5 170V198M1412.5 196V214M1414.5 211V219M1415.5 215V234M1416.5 227V231M1422.5 198V211M1423.5 209V228M1424.5 225V235M1435.5 149V159M1437.5 157V179M1438.5 170V190M1439.5 183V200M1441.5 191V207M1442.5 204V216M1443.5 202V224M1445.5 201V232M1460.5 120V132M1461.5 129V153M1462.5 148V171M1464.5 164V181M1468.5 132V141M1469.5 138V153M1472.5 138V152M1473.5 149V158M1476.5 155V158M1481.5 141V205M1482.5 202V216M1484.5 213V226M1485.5 215V237M1487.5 234V247M1488.5 244V257M1489.5 253V275M1491.5 256V278M1492.5 273V289M1493.5 287V300M1495.5 293V297M1503.5 229V245M1504.5 240V257M1505.5 250V262M1511.5 215V248M1512.5 236V263M1528.5 189V194M1530.5 192V203M1539.5 178V186M1540.5 181V196M1542.5 194V206M1543.5 203V226M1544.5 218V243M1546.5 241V258M1553.5 215V223M1554.5 221V236M1555.5 234V255M1557.5 243V262M1558.5 255V272M1559.5 270V285M1561.5 283V301M1567.5 254V267M1569.5 265V273M1570.5 269V283M1571.5 277V291M1580.5 230V232M1581.5 231V240M1582.5 238V251M1584.5 246V255M1585.5 253V269M1592.5 239V248M1593.5 242V259M1594.5 254V266M1598.5 245V253M1600.5 251V259M1601.5 257V266M1602.5 258V273M1604.5 271V278M1605.5 272V286M1606.5 281V288M1608.5 281V298M1609.5 287V302M1611.5 293V309M1612.5 306V316M1613.5 315V317M1615.5 314V326M1616.5 326V328M1624.5 263V277M1625.5 266V279M1627.5 276V282M1628.5 279V284M1646.5 207V222M1654.5 192V195M1656.5 193V205M1658.5 198V206M1667.5 174V186M1669.5 176V188M1670.5 184V197M1673.5 170V180M1674.5 178V187M1675.5 179V187M1677.5 184V191M1678.5 191V192M1681.5 185V191M1682.5 188V194M1689.5 165V168M1690.5 161V182M1694.5 177V180M1700.5 173V177M1708.5 139V143M1709.5 142V152M1710.5 150V163M1712.5 158V169M1718.5 152V160M1720.5 153V157M1721.5 155V159M1722.5 156V161M1724.5 160V170M1725.5 167V181M1726.5 178V184M1728.5 183V191M1747.5 146V150M1748.5 144V156M1749.5 155V161M1751.5 160V165M1760.5 144V150M1762.5 149V154M1763.5 151V159M1764.5 157V163M1766.5 161V162M1767.5 161V166M1768.5 160V164M1770.5 163V167M1772.5 165V167M1774.5 166V167M1790.5 146V149M1791.5 146V150M1793.5 148V164M1801.5 149V170M1802.5 165V173M1803.5 170V175M1805.5 173V176M1817.5 163V168M1818.5 167V177M1820.5 175V181M1821.5 178V188M1840.5 153V155M1841.5 153V156M1842.5 155V162M1844.5 160V167M1845.5 164V173M1846.5 168V171M1849.5 168V176M1851.5 172V177M1860.5 152V158M1861.5 154V156M1863.5 154V163M1864.5 155V165" stroke="#b4505a"/>
<path d="M5 973V975M10 964V977M11 950V957M13 935V944M14 926V930M19 940V944M21 931V937M36 949V952M40 947V949M45 974V977M56 982V985M64 1018V1020M65 1003V1014M67 982V994M76 982V985M84 995V999M87 990V993M88 987V989M95 994V997M96 989V992M100 987V989M102 977V984M104 974V978M111 993V995M112 991V993M118 987V989M127 1020V1022M129 1013V1018M130 996V1007M131 984V990M146 1017V1022M147 1011V1015M149 1002V1008M155 1009V1015M157 1004V1006M158 1000V1003M160 995V998M162 987V992M165 977V982M177 991V996M178 985V988M180 980V982M187 980V982M196 982V984M197 977V980M199 971V975M200 966V969M201 959V964M203 951V956M204 941V947M205 933V937M207 924V930M208 913V920M212 958V960M218 954V958M222 959V962M228 944V951M230 939V941M231 936V938M235 946V950M238 948V955M239 942V945M240 937V940M250 970V972M251 963V968M253 957V960M255 955V957M257 947V952M259 940V943M261 937V939M263 933V935M265 930V932M266 921V927M267 914V918M270 908V913M271 901V905M273 898V900M278 901V906M280 890V897M281 885V887M282 880V883M285 872V875M304 908V912M305 895V904M306 880V889M309 872V875M311 866V869M313 857V862M315 849V854M321 860V866M328 888V890M329 880V885M331 872V877M339 896V898M342 898V900M356 919V925M358 912V916M359 909V911M360 901V907M364 906V908M366 900V904M367 895V898M369 888V893M370 879V885M371 871V876M373 865V868M375 858V861M382 859V862M385 848V854M387 841V844M389 838V840M400 846V850M401 840V844M402 832V837M404 826V829M405 818V823M406 810V815M408 800V806M416 789V799M417 772V782M418 759V766M420 746V754M428 787V792M429 783V785M431 780V782M433 773V776M435 769V771M436 763V766M437 759V761M453 798V802M455 790V795M456 785V788M457 774V781M462 770V772M466 769V772M470 771V779M471 765V768M476 786V788M478 777V783M480 767V772M482 762V765M491 768V770M493 761V766M494 756V759M495 751V754M497 747V750M498 742V745M499 736V740M511 751V754M513 745V749M514 738V742M515 729V735M517 724V727M518 721V723M526 727V731M528 716V723M529 709V713M530 697V705M532 689V693M533 683V687M537 695V702M538 688V692M540 684V686M549 699V702M551 696V698M552 690V694M553 679V686M555 672V675M556 668V670M557 661V665M559 657V659M560 651V655M561 648V650M567 649V657M568 638V644M576 691V693M577 684V689M590 716V731M596 711V714M599 702V706M618 732V737M619 717V727M621 707V712M622 703V705M623 695V700M625 687V691M626 682V685M627 678V680M629 672V676M644 731V735M645 723V728M646 715V719M648 705V711M652 709V719M653 692V703M654 676V686M668 721V730M669 713V717M683 784V788M684 773V781M685 759V768M687 742V753M688 724V735M689 710V718M699 769V773M702 758V763M703 752V755M704 745V749M723 794V796M726 786V790M730 778V781M737 790V792M738 787V789M739 783V785M746 805V808M747 797V803M749 793V795M750 784V790M751 778V780M753 769V775M754 760V766M755 756V758M757 753V755M761 767V769M762 759V764M764 752V756M765 747V750M766 741V745M768 727V737M769 720V723M770 706V715M772 694V700M773 679V688M774 666V673M776 656V662M784 690V693M785 677V686M786 665V672M793 686V688M809 711V718M811 700V707M812 691V696M813 686V688M815 681V684M816 676V679M819 664V671M820 656V660M823 650V655M828 642V654M830 621V634M832 622V630M834 604V615M835 579V595M839 584V587M840 573V581M848 607V619M850 588V599M854 605V608M855 595V602M857 585V591M862 606V609M863 590V601M865 578V585M866 572V574M869 567V571M870 564V566M871 557V562M882 595V597M886 584V589M894 631V634M902 640V646M904 633V637M909 625V637M910 610V618M912 599V605M915 595V597M916 589V593M917 578V585M919 569V574M928 594V605M929 577V587M931 561V570M936 594V597M937 587V592M940 578V581M951 607V612M952 596V604M954 586V592M960 627V630M963 619V622M970 614V621M971 606V610M972 600V604M974 597V599M985 630V642M989 631V636M990 617V626M991 605V611M993 588V599M994 582V584M995 573V579M1001 561V576M1002 532V550M1005 531V536M1006 509V524M1008 482V499M1009 470V475M1013 468V484M1014 439V457M1016 414V429M1024 409V419M1025 387V401M1026 361V377M1028 353V355M1029 347V351M1030 342V345M1036 387V392M1037 367V381M1039 343V357M1040 321V334M1044 326V337M1045 294V315M1047 284V287M1051 295V307M1052 267V285M1053 241V256M1060 283V286M1061 267V279M1063 255V261M1068 294V296M1071 280V288M1072 269V275M1074 263V266M1075 256V261M1091 318V322M1092 311V316M1094 306V309M1097 297V302M1098 290V294M1099 286V288M1106 294V309M1107 278V286M1109 265V273M1110 257V261M1128 367V377M1129 350V360M1130 334V343M1132 319V328M1133 314V316M1137 334V337M1138 330V332M1140 320V326M1141 311V316M1142 299V307M1145 295V298M1150 315V318M1152 305V311M1153 291V301M1155 284V287M1156 278V282M1157 268V275M1165 296V300M1167 286V293M1168 271V281M1169 259V266M1171 243V253M1184 299V302M1186 290V296M1187 284V287M1194 301V317M1195 275V291M1204 343V356M1206 324V335M1207 300V315M1217 387V391M1225 394V409M1226 381V387M1227 372V377M1229 360V367M1230 347V355M1231 341V343M1233 331V337M1245 378V380M1250 406V416M1252 390V399M1253 371V382M1254 352V363M1256 326V343M1265 438V447M1266 422V432M1283 534V555M1284 509V523M1285 495V502M1287 480V489M1288 472V476M1295 552V554M1296 548V551M1297 543V546M1300 607V619M1301 583V598M1306 647V664M1307 617V635M1308 588V605M1310 571V580M1318 637V646M1319 615V629M1320 594V607M1322 568V584M1326 559V570M1327 536V551M1328 517V528M1330 501V510M1331 482V494M1332 463V474M1334 445V456M1335 427V438M1337 407V419M1343 466V473M1345 449V460M1346 427V441M1347 413V420M1349 402V408M1350 389V398M1351 380V385M1353 372V377M1354 363V369M1357 344V355M1363 361V365M1368 362V372M1369 347V356M1370 325V339M1372 313V318M1380 330V335M1381 302V322M1382 236V280M1384 193V214M1388 195V210M1389 174V186M1390 155V166M1394 204V215M1396 171V193M1397 135V157M1404 182V194M1405 165V175M1407 152V159M1408 144V149M1419 220V226M1421 207V213M1427 224V231M1428 212V220M1430 199V207M1431 188V195M1432 174V183M1434 158V168M1447 219V223M1448 215V217M1450 212V214M1451 207V210M1452 194V203M1454 180V189M1455 168V175M1456 153V163M1458 140V148M1459 127V135M1466 149V166M1467 134V141M1478 150V156M1479 144V147M1497 280V290M1498 261V272M1500 246V254M1501 234V241M1508 250V258M1509 234V244M1514 257V260M1516 249V254M1517 243V247M1519 239V241M1521 232V236M1523 223V228M1524 209V218M1527 195V202M1532 197V199M1536 191V193M1539 181V186M1548 247V251M1550 239V244M1551 229V235M1552 220V225M1563 292V297M1564 277V287M1566 263V271M1567 255V260M1574 280V287M1575 268V275M1576 256V263M1578 244V252M1579 233V240M1589 256V261M1590 248V253M1591 242V245M1597 257V263M1598 247V253M1618 301V320M1620 290V294M1621 281V287M1622 274V278M1624 268V272M1630 278V282M1632 273V275M1633 267V270M1634 261V265M1636 252V258M1637 235V246M1640 226V229M1641 221V225M1643 215V219M1644 209V213M1649 208V214M1651 200V204M1652 196V198M1661 198V202M1663 190V195M1664 186V188M1665 179V184M1672 177V191M1680 187V190M1686 185V188M1687 177V182M1688 167V173M1694 178V180M1699 175V177M1702 169V173M1703 162V166M1705 154V159M1706 146V151M1707 140V143M1714 165V167M1715 161V164M1717 157V159M1718 153V156M1730 185V189M1732 180V182M1733 176V178M1734 171V174M1736 166V169M1741 157V160M1742 152V155M1753 162V164M1757 153V156M1758 148V151M1780 158V160M1781 155V157M1783 152V154M1795 160V162M1796 157V159M1798 154V156M1811 173V175M1814 169V171M1815 165V168M1825 182V184M1827 178V180M1829 175V177M1830 171V173M1831 166V169M1833 162V164M1835 158V160M1853 173V175M1854 169V171M1856 166V168M1857 162V165M1858 157V160M1860 153V155" stroke="#179178" stroke-width="2"/>
<path d="M6 974V977M9 979V981M15 926V931M17 934V939M18 941V944M22 930V933M23 935V939M25 940V943M29 943V946M41 950V961M42 967V974M49 971V973M50 974V977M53 982V986M57 983V988M58 992V998M60 1003V1010M62 1013V1018M69 977V979M72 982V985M79 984V988M80 991V996M81 998V1000M92 985V988M93 991V996M103 975V978M106 973V976M107 977V979M108 982V988M110 991V994M119 988V992M122 997V1004M123 1009V1014M124 1017V1021M135 982V989M137 992V995M139 1000V1003M141 1006V1010M142 1012V1014M143 1016V1021M151 1001V1009M153 1013V1017M166 976V978M168 981V987M169 990V996M185 980V982M191 980V982M192 983V986M209 920V950M219 953V956M220 958V962M232 937V942M234 945V949M236 948V955M242 937V941M243 943V948M244 951V957M246 961V967M247 969V972M275 898V901M277 903V906M288 874V878M289 881V885M290 887V889M292 892V897M296 902V905M297 907V909M298 911V913M301 912V914M317 847V851M319 856V866M323 859V864M324 867V873M325 876V880M327 884V889M333 870V877M335 884V895M340 896V900M343 898V900M344 903V908M346 910V914M351 915V918M352 919V921M355 923V926M363 902V907M377 858V861M378 863V866M394 838V841M395 843V847M410 800V803M421 746V755M422 761V771M424 777V782M425 786V792M439 759V761M440 762V766M441 767V769M443 771V774M444 777V786M445 790V793M447 795V798M449 798V804M467 769V772M468 775V780M472 765V768M474 771V779M475 783V787M486 759V762M488 763V766M490 768V770M501 735V737M502 739V743M503 746V748M505 750V752M506 753V755M521 722V724M522 725V729M534 685V695M536 699V703M542 686V688M544 690V695M545 697V699M564 652V656M569 636V638M571 641V646M572 652V661M573 668V678M575 683V691M580 686V693M582 697V702M583 705V709M584 712V718M586 721V726M587 729V734M606 696V699M607 701V703M608 706V712M610 716V719M611 722V726M614 731V734M633 668V676M634 681V689M635 694V702M637 707V712M638 715V717M639 719V724M641 726V730M642 732V736M649 704V708M650 712V720M657 673V675M658 676V678M660 680V683M661 685V688M662 691V698M664 701V704M665 707V716M666 721V730M671 714V720M672 723V726M673 729V735M675 739V744M676 748V755M677 759V765M679 769V773M680 776V779M681 782V788M691 709V711M692 715V722M693 728V736M695 742V749M696 755V763M697 768V773M708 743V746M710 749V754M711 757V762M712 765V771M714 774V776M715 779V783M716 785V788M718 789V791M719 791V793M722 794V796M731 778V781M733 783V787M734 789V791M741 783V785M742 788V796M743 800V806M758 753V757M759 761V768M777 657V666M778 672V680M780 684V687M781 690V694M788 664V668M789 671V675M790 677V680M792 682V687M799 685V687M801 692V697M803 699V702M804 705V711M805 714V717M807 719V721M822 655V657M824 649V651M826 654V658M831 620V630M838 578V585M842 571V574M843 577V583M844 588V597M846 602V610M847 615V621M851 586V591M853 596V606M858 586V592M859 595V598M861 601V608M874 559V563M877 569V577M878 582V587M881 590V596M888 585V592M889 600V616M890 623V625M892 627V630M893 632V635M897 630V640M898 644V649M905 633V637M906 639V642M920 569V571M921 576V587M923 593V603M924 606V609M932 560V566M933 571V579M935 585V595M944 576V578M946 581V587M947 590V596M948 599V602M950 605V611M955 587V593M956 598V607M958 613V622M959 627V630M966 617V622M977 599V604M981 607V609M982 615V629M983 636V643M987 629V635M998 575V580M1004 528V535M1010 471V477M1012 481V487M1020 412V418M1032 344V353M1033 361V373M1035 380V390M1041 317V321M1043 325V337M1048 289V305M1056 238V246M1057 252V263M1059 271V283M1064 256V267M1066 274V285M1067 290V295M1076 256V263M1078 267V272M1079 275V279M1080 282V288M1083 294V301M1086 308V313M1087 317V322M1101 287V292M1102 295V299M1103 303V313M1111 257V265M1113 269V274M1114 278V283M1115 287V296M1117 301V310M1118 315V320M1119 324V330M1121 335V343M1122 347V352M1123 357V365M1125 370V378M1134 317V326M1136 331V336M1144 297V299M1146 296V303M1148 308V316M1159 267V272M1160 275V278M1161 281V285M1163 288V291M1164 294V299M1172 241V245M1173 249V258M1175 262V266M1176 268V272M1177 273V275M1179 276V279M1180 282V287M1181 290V296M1183 299V302M1190 288V294M1191 299V309M1192 314V321M1198 274V286M1199 294V305M1200 311V319M1202 326V338M1203 346V357M1208 296V299M1210 310V341M1211 358V377M1212 384V387M1215 389V392M1218 386V391M1219 393V395M1221 398V405M1222 408V410M1234 330V335M1235 341V352M1237 358V363M1238 366V371M1242 376V380M1248 381V395M1249 404V416M1258 330V355M1260 370V393M1261 405V418M1262 424V428M1264 434V446M1268 421V428M1269 436V450M1270 461V477M1272 485V493M1273 496V499M1274 502V508M1276 512V515M1277 519V527M1279 532V537M1280 542V550M1281 554V560M1289 477V496M1291 508V523M1292 533V549M1299 558V607M1303 595V646M1304 664V669M1311 573V587M1312 597V610M1314 619V635M1316 642V647M1324 563V571M1338 406V415M1339 421V432M1341 439V452M1342 459V471M1361 344V351M1362 356V364M1365 361V366M1366 369V373M1373 313V317M1374 319V322M1376 323V325M1377 327V332M1378 334V336M1385 192V209M1392 156V172M1393 185V210M1399 130V136M1400 144V163M1401 174V190M1409 145V152M1411 158V168M1412 176V191M1413 200V209M1415 214V217M1416 220V226M1423 206V209M1424 213V223M1425 227V232M1436 155V157M1438 160V168M1439 173V181M1440 186V193M1442 197V204M1443 207V212M1444 214V217M1446 219V223M1461 125V129M1462 135V148M1463 156V166M1465 169V171M1469 134V138M1470 141V145M1473 147V149M1474 151V154M1477 155V157M1482 155V191M1483 205V211M1485 216V223M1486 227V233M1488 236V242M1489 246V251M1490 254V256M1492 260V270M1493 276V284M1494 288V292M1504 234V241M1505 245V249M1506 253V259M1512 232V240M1513 246V257M1531 194V198M1540 180V182M1541 184V192M1543 197V204M1544 210V222M1545 229V239M1547 244V251M1554 219V221M1555 224V232M1556 237V244M1558 249V257M1559 262V269M1560 274V282M1562 287V296M1568 256V263M1570 266V271M1571 274V280M1572 283V288M1582 233V238M1583 241V244M1585 247V252M1586 256V262M1593 242V246M1594 250V255M1595 259V264M1599 247V251M1601 253V256M1602 258V263M1603 266V270M1605 273V277M1606 279V282M1607 284V286M1609 288V293M1612 299V307M1613 310V314M1616 318V324M1625 268V272M1626 274V276M1628 278V280M1629 281V283M1647 210V217M1657 194V199M1659 201V203M1668 176V179M1670 181V186M1671 189V194M1674 174V177M1675 178V180M1676 182V186M1678 188V190M1682 187V190M1691 169V178M1695 177V179M1709 140V142M1710 145V150M1711 154V159M1713 163V167M1723 158V160M1725 162V166M1726 170V176M1727 179V183M1729 185V189M1749 151V154M1750 156V159M1752 161V164M1761 146V148M1763 150V152M1764 154V157M1765 159V161M1794 152V160M1802 154V163M1803 167V170M1804 171V173M1818 164V167M1819 169V174M1821 176V179M1822 180V184M1843 157V160M1845 162V165M1846 166V168M1850 170V173M1852 174V176M1864 156V158M1865 159V161" stroke="#d9434f" stroke-width="2"/>

</svg>
<svg width="1957" height="1165" viewBox="0 0 1957 1165">
<!-- gold icon -->
<circle cx="29.4" cy="27.3" r="13.3" fill="#d69e00"/><path d="M26.9 20.8H31.9L34.9 25.7H24.2Z M22 27H26.6L29.4 31.8H18.9Z M31.9 27H36.8L40.1 31.8H29.8Z" fill="#fffdf2"/>
<!-- TV logo -->
<path d="M21.1 1078.6H38.9V1100.7H30V1087.5H21.1Z" fill="#131313"/>
<circle cx="46.4" cy="1082.9" r="4.3" fill="#131313"/>
<path d="M53 1078.6H65.8L57.3 1100.7H46.9Z" fill="#131313"/>
<!-- settings hex -->
<path d="M1904.8 1134.6H1916L1921 1143.6L1916 1152.6H1904.8L1899.8 1143.6Z" stroke="#131722" stroke-width="1.5" fill="none"/>
<circle cx="1910.4" cy="1143.6" r="2.8" stroke="#131722" stroke-width="1.5" fill="none"/>
<!-- caret -->
<path d="M32.3 165.2L38.3 159.6L44.1 165.2" stroke="#131722" stroke-width="2" fill="none"/>
</svg>
<div class="a" style="left:49px;top:18px;font-size:23.5px;">黄金期货</div>
<div class="a" style="left:150px;top:18px;font-size:22px;">·</div>
<div class="a" style="left:163px;top:18px;font-size:22px;">1</div>
<div class="a" style="left:181px;top:18px;font-size:22px;">·</div>
<div class="a" style="left:193px;top:18px;font-size:22px;letter-spacing:-1.2px;">COMEX</div>
<div class="a" style="left:290px;top:14px;width:60px;height:27px;border-radius:13.5px;overflow:hidden;">
 <div style="position:absolute;left:0;top:0;width:30px;height:27px;background:#ddf2ee"></div>
 <div style="position:absolute;left:30px;top:0;width:30px;height:27px;background:#fdecd5"></div>
 <div style="position:absolute;left:10px;top:7px;width:12px;height:12px;border-radius:6px;background:#089981"></div>
 <div style="position:absolute;left:37px;top:4px;font-size:19px;font-weight:bold;color:#ef7d0e;line-height:20px">D</div>
</div>
<div class="a oh" style="left:374px;">开=</div><div class="a oh g" style="left:405px;">3,114.3</div>
<div class="a oh" style="left:480px;">高=</div><div class="a oh g" style="left:511px;">3,114.9</div>
<div class="a oh" style="left:585px;">低=</div><div class="a oh g" style="left:617px;">3,114.3</div>
<div class="a oh" style="left:691px;">收=</div><div class="a oh g" style="left:722px;">3,114.3</div>
<div class="a oh g" style="left:796px;">0.0 (0.00%)</div>
<div class="a" style="left:15px;top:51px;width:96px;height:49px;border:1px solid #e6606b;border-radius:6px;text-align:center;">
 <div style="position:absolute;left:0;right:0;top:8px;font-size:17px;font-weight:bold;letter-spacing:1.5px;text-indent:1.5px;color:#e03e4b">3,114.3</div>
 <div style="position:absolute;left:0;right:0;top:29px;font-size:17px;color:#e0525d">卖出</div>
</div>
<div class="a" style="left:125px;top:68px;font-size:14px;">0.1</div>
<div class="a" style="left:158px;top:51px;width:96px;height:49px;border:1px solid #3d6ee0;border-radius:6px;text-align:center;">
 <div style="position:absolute;left:0;right:0;top:8px;font-size:17px;font-weight:bold;letter-spacing:1.5px;text-indent:1.5px;color:#2f64e0">3,114.4</div>
 <div style="position:absolute;left:0;right:0;top:29px;font-size:17px;color:#4a74d8">买入</div>
</div>
<div class="a" style="left:16px;top:116px;font-size:20px;">Vol <span style="color:#22a08f;margin-left:5px">105</span></div>
<div class="a" style="left:17px;top:147px;width:40px;height:29px;border:1px solid #d9d9d9;border-radius:5px;"></div>
<div class="a" style="left:76px;top:1075px;font-size:30px;font-weight:bold;letter-spacing:0.5px;color:#131313;">TradingView</div>
<div class="pl" style="top:35.0px">3,075.0</div><div class="pl" style="top:82.0px">3,072.5</div><div class="pl" style="top:129.0px">3,070.0</div><div class="pl" style="top:175.0px">3,067.5</div><div class="pl" style="top:222.0px">3,065.0</div><div class="pl" style="top:269.0px">3,062.5</div><div class="pl" style="top:316.0px">3,060.0</div><div class="pl" style="top:362.0px">3,057.5</div><div class="pl" style="top:409.0px">3,055.0</div><div class="pl" style="top:456.0px">3,052.5</div><div class="pl" style="top:503.0px">3,050.0</div><div class="pl" style="top:549.0px">3,047.5</div><div class="pl" style="top:596.0px">3,045.0</div><div class="pl" style="top:643.0px">3,042.5</div><div class="pl" style="top:689.0px">3,040.0</div><div class="pl" style="top:736.0px">3,037.5</div><div class="pl" style="top:783.0px">3,035.0</div><div class="pl" style="top:830.0px">3,032.5</div><div class="pl" style="top:876.0px">3,030.0</div><div class="pl" style="top:923.0px">3,027.5</div><div class="pl" style="top:970.0px">3,025.0</div><div class="pl" style="top:1017.0px">3,022.5</div><div class="pl" style="top:1063.0px">3,020.0</div>
<div class="tl" style="left:0px">06:00</div><div class="tl" style="left:157px">08:00</div><div class="tl" style="left:238px">09:00</div><div class="tl" style="left:319px">10:00</div><div class="tl" style="left:401px">11:00</div><div class="tl" style="left:480px">12:00</div><div class="tl" style="left:560px">13:00</div><div class="tl" style="left:641px">14:00</div><div class="tl" style="left:722px">15:00</div><div class="tl" style="left:804px">16:00</div><div class="tl" style="left:885px">17:00</div><div class="tl" style="left:965px">18:00</div><div class="tl" style="left:1046px">19:00</div><div class="tl" style="left:1127px">20:00</div><div class="tl" style="left:1208px">21:00</div><div class="tl" style="left:1289px">22:00</div><div class="tl" style="left:1370px">23:00</div><div class="tl b" style="left:1452px">28</div><div class="tl" style="left:1533px">01:00</div><div class="tl" style="left:1687px">03:00</div>
<div class="a" style="left:1866px;top:149px;width:79px;height:25px;border:1px solid #e05560;border-radius:3px;background:#fff;"></div>
<div class="a" style="left:1879px;top:152px;font-size:17px;line-height:20px;letter-spacing:0.6px;color:#e03e4b">3,068.8</div>
<div class="a" style="left:1866px;top:1096px;width:28px;height:25px;border:1px solid #d9626b;border-bottom:none;border-radius:0 3px 3px 0;background:#fff;"></div>
<div class="a" style="left:1879px;top:1100.5px;font-size:18px;line-height:20px;color:#e05560">8</div>
</body></html>
